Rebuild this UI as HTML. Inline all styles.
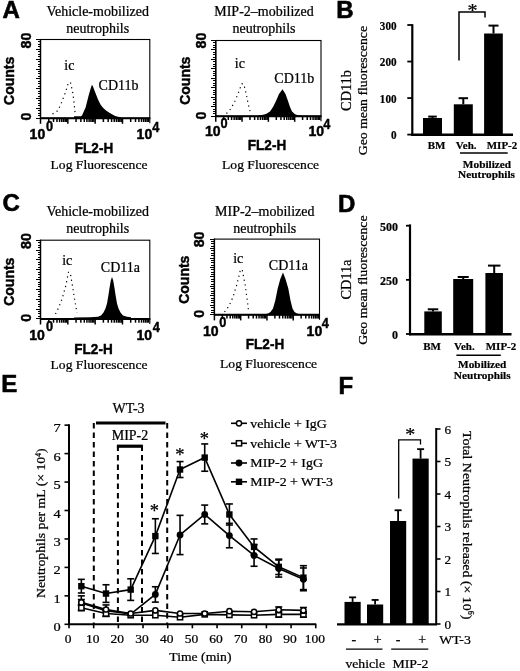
<!DOCTYPE html>
<html><head><meta charset="utf-8"><style>
html,body{margin:0;padding:0;background:#fff;}
svg{display:block;filter:grayscale(100%);}
</style></head><body>
<svg width="520" height="671" viewBox="0 0 520 671">
<rect width="520" height="671" fill="#fff"/>
<text x="2.5" y="18.3" font-family="Liberation Sans" font-size="24" font-weight="700" stroke="#000" stroke-width="0.6">A</text>
<text transform="translate(97.7,16.1) scale(1.0,0.97)" font-family="Liberation Serif" font-size="14" font-weight="400" text-anchor="middle" stroke="#000" stroke-width="0.25">Vehicle-mobilized</text>
<text transform="translate(97.7,32.9) scale(1.0,0.97)" font-family="Liberation Serif" font-size="14" font-weight="400" text-anchor="middle" stroke="#000" stroke-width="0.25">neutrophils</text>
<rect x="40.5" y="39.5" width="109.3" height="78.7" fill="none" stroke="#000" stroke-width="1.1"/>
<line x1="40.1" y1="118.2" x2="150.3" y2="118.2" stroke="#000" stroke-width="2" stroke-linecap="butt"/>
<line x1="40.5" y1="39" x2="40.5" y2="118.2" stroke="#000" stroke-width="1.4" stroke-linecap="butt"/>
<line x1="35.9" y1="118.2" x2="40.5" y2="118.2" stroke="#000" stroke-width="1" stroke-linecap="butt" shape-rendering="crispEdges"/>
<line x1="37.5" y1="115.74" x2="40.5" y2="115.74" stroke="#000" stroke-width="1" stroke-linecap="butt" shape-rendering="crispEdges"/>
<line x1="37.5" y1="113.28" x2="40.5" y2="113.28" stroke="#000" stroke-width="1" stroke-linecap="butt" shape-rendering="crispEdges"/>
<line x1="37.5" y1="110.82" x2="40.5" y2="110.82" stroke="#000" stroke-width="1" stroke-linecap="butt" shape-rendering="crispEdges"/>
<line x1="35.9" y1="108.36" x2="40.5" y2="108.36" stroke="#000" stroke-width="1" stroke-linecap="butt" shape-rendering="crispEdges"/>
<line x1="37.5" y1="105.9" x2="40.5" y2="105.9" stroke="#000" stroke-width="1" stroke-linecap="butt" shape-rendering="crispEdges"/>
<line x1="37.5" y1="103.44" x2="40.5" y2="103.44" stroke="#000" stroke-width="1" stroke-linecap="butt" shape-rendering="crispEdges"/>
<line x1="37.5" y1="100.98" x2="40.5" y2="100.98" stroke="#000" stroke-width="1" stroke-linecap="butt" shape-rendering="crispEdges"/>
<line x1="35.9" y1="98.53" x2="40.5" y2="98.53" stroke="#000" stroke-width="1" stroke-linecap="butt" shape-rendering="crispEdges"/>
<line x1="37.5" y1="96.07" x2="40.5" y2="96.07" stroke="#000" stroke-width="1" stroke-linecap="butt" shape-rendering="crispEdges"/>
<line x1="37.5" y1="93.61" x2="40.5" y2="93.61" stroke="#000" stroke-width="1" stroke-linecap="butt" shape-rendering="crispEdges"/>
<line x1="37.5" y1="91.15" x2="40.5" y2="91.15" stroke="#000" stroke-width="1" stroke-linecap="butt" shape-rendering="crispEdges"/>
<line x1="35.9" y1="88.69" x2="40.5" y2="88.69" stroke="#000" stroke-width="1" stroke-linecap="butt" shape-rendering="crispEdges"/>
<line x1="37.5" y1="86.23" x2="40.5" y2="86.23" stroke="#000" stroke-width="1" stroke-linecap="butt" shape-rendering="crispEdges"/>
<line x1="37.5" y1="83.77" x2="40.5" y2="83.77" stroke="#000" stroke-width="1" stroke-linecap="butt" shape-rendering="crispEdges"/>
<line x1="37.5" y1="81.31" x2="40.5" y2="81.31" stroke="#000" stroke-width="1" stroke-linecap="butt" shape-rendering="crispEdges"/>
<line x1="35.9" y1="78.85" x2="40.5" y2="78.85" stroke="#000" stroke-width="1" stroke-linecap="butt" shape-rendering="crispEdges"/>
<line x1="37.5" y1="76.39" x2="40.5" y2="76.39" stroke="#000" stroke-width="1" stroke-linecap="butt" shape-rendering="crispEdges"/>
<line x1="37.5" y1="73.93" x2="40.5" y2="73.93" stroke="#000" stroke-width="1" stroke-linecap="butt" shape-rendering="crispEdges"/>
<line x1="37.5" y1="71.47" x2="40.5" y2="71.47" stroke="#000" stroke-width="1" stroke-linecap="butt" shape-rendering="crispEdges"/>
<line x1="35.9" y1="69.01" x2="40.5" y2="69.01" stroke="#000" stroke-width="1" stroke-linecap="butt" shape-rendering="crispEdges"/>
<line x1="37.5" y1="66.55" x2="40.5" y2="66.55" stroke="#000" stroke-width="1" stroke-linecap="butt" shape-rendering="crispEdges"/>
<line x1="37.5" y1="64.09" x2="40.5" y2="64.09" stroke="#000" stroke-width="1" stroke-linecap="butt" shape-rendering="crispEdges"/>
<line x1="37.5" y1="61.63" x2="40.5" y2="61.63" stroke="#000" stroke-width="1" stroke-linecap="butt" shape-rendering="crispEdges"/>
<line x1="35.9" y1="59.17" x2="40.5" y2="59.17" stroke="#000" stroke-width="1" stroke-linecap="butt" shape-rendering="crispEdges"/>
<line x1="37.5" y1="56.72" x2="40.5" y2="56.72" stroke="#000" stroke-width="1" stroke-linecap="butt" shape-rendering="crispEdges"/>
<line x1="37.5" y1="54.26" x2="40.5" y2="54.26" stroke="#000" stroke-width="1" stroke-linecap="butt" shape-rendering="crispEdges"/>
<line x1="37.5" y1="51.8" x2="40.5" y2="51.8" stroke="#000" stroke-width="1" stroke-linecap="butt" shape-rendering="crispEdges"/>
<line x1="35.9" y1="49.34" x2="40.5" y2="49.34" stroke="#000" stroke-width="1" stroke-linecap="butt" shape-rendering="crispEdges"/>
<line x1="37.5" y1="46.88" x2="40.5" y2="46.88" stroke="#000" stroke-width="1" stroke-linecap="butt" shape-rendering="crispEdges"/>
<line x1="37.5" y1="44.42" x2="40.5" y2="44.42" stroke="#000" stroke-width="1" stroke-linecap="butt" shape-rendering="crispEdges"/>
<line x1="37.5" y1="41.96" x2="40.5" y2="41.96" stroke="#000" stroke-width="1" stroke-linecap="butt" shape-rendering="crispEdges"/>
<line x1="35.9" y1="39.5" x2="40.5" y2="39.5" stroke="#000" stroke-width="1" stroke-linecap="butt" shape-rendering="crispEdges"/>
<line x1="40.5" y1="118.2" x2="40.5" y2="123.8" stroke="#000" stroke-width="1.5" stroke-linecap="butt"/>
<line x1="48.73" y1="118.2" x2="48.73" y2="122" stroke="#000" stroke-width="1.5" stroke-linecap="butt"/>
<line x1="53.54" y1="118.2" x2="53.54" y2="122" stroke="#000" stroke-width="1.5" stroke-linecap="butt"/>
<line x1="56.95" y1="118.2" x2="56.95" y2="122" stroke="#000" stroke-width="1.5" stroke-linecap="butt"/>
<line x1="59.6" y1="118.2" x2="59.6" y2="122" stroke="#000" stroke-width="1.5" stroke-linecap="butt"/>
<line x1="61.76" y1="118.2" x2="61.76" y2="122" stroke="#000" stroke-width="1.5" stroke-linecap="butt"/>
<line x1="63.59" y1="118.2" x2="63.59" y2="122" stroke="#000" stroke-width="1.5" stroke-linecap="butt"/>
<line x1="65.18" y1="118.2" x2="65.18" y2="122" stroke="#000" stroke-width="1.5" stroke-linecap="butt"/>
<line x1="66.57" y1="118.2" x2="66.57" y2="122" stroke="#000" stroke-width="1.5" stroke-linecap="butt"/>
<line x1="67.83" y1="118.2" x2="67.83" y2="123.8" stroke="#000" stroke-width="1.5" stroke-linecap="butt"/>
<line x1="76.05" y1="118.2" x2="76.05" y2="122" stroke="#000" stroke-width="1.5" stroke-linecap="butt"/>
<line x1="80.86" y1="118.2" x2="80.86" y2="122" stroke="#000" stroke-width="1.5" stroke-linecap="butt"/>
<line x1="84.28" y1="118.2" x2="84.28" y2="122" stroke="#000" stroke-width="1.5" stroke-linecap="butt"/>
<line x1="86.92" y1="118.2" x2="86.92" y2="122" stroke="#000" stroke-width="1.5" stroke-linecap="butt"/>
<line x1="89.09" y1="118.2" x2="89.09" y2="122" stroke="#000" stroke-width="1.5" stroke-linecap="butt"/>
<line x1="90.92" y1="118.2" x2="90.92" y2="122" stroke="#000" stroke-width="1.5" stroke-linecap="butt"/>
<line x1="92.5" y1="118.2" x2="92.5" y2="122" stroke="#000" stroke-width="1.5" stroke-linecap="butt"/>
<line x1="93.9" y1="118.2" x2="93.9" y2="122" stroke="#000" stroke-width="1.5" stroke-linecap="butt"/>
<line x1="95.15" y1="118.2" x2="95.15" y2="123.8" stroke="#000" stroke-width="1.5" stroke-linecap="butt"/>
<line x1="103.38" y1="118.2" x2="103.38" y2="122" stroke="#000" stroke-width="1.5" stroke-linecap="butt"/>
<line x1="108.19" y1="118.2" x2="108.19" y2="122" stroke="#000" stroke-width="1.5" stroke-linecap="butt"/>
<line x1="111.6" y1="118.2" x2="111.6" y2="122" stroke="#000" stroke-width="1.5" stroke-linecap="butt"/>
<line x1="114.25" y1="118.2" x2="114.25" y2="122" stroke="#000" stroke-width="1.5" stroke-linecap="butt"/>
<line x1="116.41" y1="118.2" x2="116.41" y2="122" stroke="#000" stroke-width="1.5" stroke-linecap="butt"/>
<line x1="118.24" y1="118.2" x2="118.24" y2="122" stroke="#000" stroke-width="1.5" stroke-linecap="butt"/>
<line x1="119.83" y1="118.2" x2="119.83" y2="122" stroke="#000" stroke-width="1.5" stroke-linecap="butt"/>
<line x1="121.22" y1="118.2" x2="121.22" y2="122" stroke="#000" stroke-width="1.5" stroke-linecap="butt"/>
<line x1="122.48" y1="118.2" x2="122.48" y2="123.8" stroke="#000" stroke-width="1.5" stroke-linecap="butt"/>
<line x1="130.7" y1="118.2" x2="130.7" y2="122" stroke="#000" stroke-width="1.5" stroke-linecap="butt"/>
<line x1="135.51" y1="118.2" x2="135.51" y2="122" stroke="#000" stroke-width="1.5" stroke-linecap="butt"/>
<line x1="138.93" y1="118.2" x2="138.93" y2="122" stroke="#000" stroke-width="1.5" stroke-linecap="butt"/>
<line x1="141.57" y1="118.2" x2="141.57" y2="122" stroke="#000" stroke-width="1.5" stroke-linecap="butt"/>
<line x1="143.74" y1="118.2" x2="143.74" y2="122" stroke="#000" stroke-width="1.5" stroke-linecap="butt"/>
<line x1="145.57" y1="118.2" x2="145.57" y2="122" stroke="#000" stroke-width="1.5" stroke-linecap="butt"/>
<line x1="147.15" y1="118.2" x2="147.15" y2="122" stroke="#000" stroke-width="1.5" stroke-linecap="butt"/>
<line x1="148.55" y1="118.2" x2="148.55" y2="122" stroke="#000" stroke-width="1.5" stroke-linecap="butt"/>
<line x1="149.8" y1="118.2" x2="149.8" y2="123.2" stroke="#000" stroke-width="1.1" stroke-linecap="butt"/>
<polygon points="74,118 74,116.3 81,116.3 82,115.5 84,111 85.6,107.5 87.5,100 88.75,95 90.5,89 91.9,84.8 93,86.5 94.5,90.5 96.25,95 98,99.5 100.5,104.5 103,107.8 106,110.5 109,112.6 112,114.3 115.2,116 118,116.8 121,117.3 121,118" fill="#000"/>
<polyline points="52.5,114 58,110.6 62,101.5 65.6,92 68.5,82.3 70.6,83 72.8,92.8 74,102.3 75,112 75.5,115" fill="none" stroke="#000" stroke-width="1.2" stroke-linecap="butt" stroke-linejoin="miter" stroke-dasharray="1.2 3.6"/>
<text transform="translate(64.3,70) scale(1.0,0.97)" font-family="Liberation Serif" font-size="14" font-weight="400" text-anchor="start" stroke="#000" stroke-width="0.25">ic</text>
<text transform="translate(98.6,89.5) scale(1.0,0.97)" font-family="Liberation Serif" font-size="14" font-weight="400" text-anchor="start" stroke="#000" stroke-width="0.25">CD11b</text>
<text transform="translate(14.2,80.8) rotate(-90) scale(0.915,1.0)" font-family="Liberation Sans" font-size="15.3" font-weight="700" text-anchor="middle" stroke="#000" stroke-width="0.45">Counts</text>
<text transform="translate(30.7,40.6) rotate(-90) scale(0.94,1.0)" font-family="Liberation Sans" font-size="15.2" font-weight="700" text-anchor="middle" stroke="#000" stroke-width="0.45">80</text>
<text transform="translate(30.7,116.6) rotate(-90) scale(0.94,1.0)" font-family="Liberation Sans" font-size="15.2" font-weight="700" text-anchor="middle" stroke="#000" stroke-width="0.45">0</text>
<text transform="translate(29.6,139.3) scale(0.97,1.0)" font-family="Liberation Sans" font-size="14.5" font-weight="700" text-anchor="start" stroke="#000" stroke-width="0.45">10</text>
<text transform="translate(45.9,131.3) scale(0.88,1.0)" font-family="Liberation Sans" font-size="14.5" font-weight="700" text-anchor="start" stroke="#000" stroke-width="0.45">0</text>
<text transform="translate(136.6,139.2) scale(0.97,1.0)" font-family="Liberation Sans" font-size="14.5" font-weight="700" text-anchor="start" stroke="#000" stroke-width="0.45">10</text>
<text transform="translate(152.2,131.7) scale(0.88,1.0)" font-family="Liberation Sans" font-size="14.5" font-weight="700" text-anchor="start" stroke="#000" stroke-width="0.45">4</text>
<text transform="translate(94,153.3) scale(0.885,1.0)" font-family="Liberation Sans" font-size="15.3" font-weight="700" text-anchor="middle" stroke="#000" stroke-width="0.45">FL2-H</text>
<text transform="translate(99,168.5) scale(1.0,0.97)" font-family="Liberation Serif" font-size="13.6" font-weight="400" text-anchor="middle" stroke="#000" stroke-width="0.25">Log Fluorescence</text>
<text transform="translate(264,16.1) scale(1.0,0.97)" font-family="Liberation Serif" font-size="14" font-weight="400" text-anchor="middle" stroke="#000" stroke-width="0.25">MIP-2–mobilized</text>
<text transform="translate(264,32.9) scale(1.0,0.97)" font-family="Liberation Serif" font-size="14" font-weight="400" text-anchor="middle" stroke="#000" stroke-width="0.25">neutrophils</text>
<rect x="215.75" y="40.5" width="105.25" height="75.7" fill="none" stroke="#000" stroke-width="1.1"/>
<line x1="215.35" y1="116.2" x2="321.5" y2="116.2" stroke="#000" stroke-width="2" stroke-linecap="butt"/>
<line x1="215.75" y1="40" x2="215.75" y2="116.2" stroke="#000" stroke-width="1.4" stroke-linecap="butt"/>
<line x1="211.15" y1="116.2" x2="215.75" y2="116.2" stroke="#000" stroke-width="1" stroke-linecap="butt" shape-rendering="crispEdges"/>
<line x1="212.75" y1="113.83" x2="215.75" y2="113.83" stroke="#000" stroke-width="1" stroke-linecap="butt" shape-rendering="crispEdges"/>
<line x1="212.75" y1="111.47" x2="215.75" y2="111.47" stroke="#000" stroke-width="1" stroke-linecap="butt" shape-rendering="crispEdges"/>
<line x1="212.75" y1="109.1" x2="215.75" y2="109.1" stroke="#000" stroke-width="1" stroke-linecap="butt" shape-rendering="crispEdges"/>
<line x1="211.15" y1="106.74" x2="215.75" y2="106.74" stroke="#000" stroke-width="1" stroke-linecap="butt" shape-rendering="crispEdges"/>
<line x1="212.75" y1="104.37" x2="215.75" y2="104.37" stroke="#000" stroke-width="1" stroke-linecap="butt" shape-rendering="crispEdges"/>
<line x1="212.75" y1="102.01" x2="215.75" y2="102.01" stroke="#000" stroke-width="1" stroke-linecap="butt" shape-rendering="crispEdges"/>
<line x1="212.75" y1="99.64" x2="215.75" y2="99.64" stroke="#000" stroke-width="1" stroke-linecap="butt" shape-rendering="crispEdges"/>
<line x1="211.15" y1="97.28" x2="215.75" y2="97.28" stroke="#000" stroke-width="1" stroke-linecap="butt" shape-rendering="crispEdges"/>
<line x1="212.75" y1="94.91" x2="215.75" y2="94.91" stroke="#000" stroke-width="1" stroke-linecap="butt" shape-rendering="crispEdges"/>
<line x1="212.75" y1="92.54" x2="215.75" y2="92.54" stroke="#000" stroke-width="1" stroke-linecap="butt" shape-rendering="crispEdges"/>
<line x1="212.75" y1="90.18" x2="215.75" y2="90.18" stroke="#000" stroke-width="1" stroke-linecap="butt" shape-rendering="crispEdges"/>
<line x1="211.15" y1="87.81" x2="215.75" y2="87.81" stroke="#000" stroke-width="1" stroke-linecap="butt" shape-rendering="crispEdges"/>
<line x1="212.75" y1="85.45" x2="215.75" y2="85.45" stroke="#000" stroke-width="1" stroke-linecap="butt" shape-rendering="crispEdges"/>
<line x1="212.75" y1="83.08" x2="215.75" y2="83.08" stroke="#000" stroke-width="1" stroke-linecap="butt" shape-rendering="crispEdges"/>
<line x1="212.75" y1="80.72" x2="215.75" y2="80.72" stroke="#000" stroke-width="1" stroke-linecap="butt" shape-rendering="crispEdges"/>
<line x1="211.15" y1="78.35" x2="215.75" y2="78.35" stroke="#000" stroke-width="1" stroke-linecap="butt" shape-rendering="crispEdges"/>
<line x1="212.75" y1="75.98" x2="215.75" y2="75.98" stroke="#000" stroke-width="1" stroke-linecap="butt" shape-rendering="crispEdges"/>
<line x1="212.75" y1="73.62" x2="215.75" y2="73.62" stroke="#000" stroke-width="1" stroke-linecap="butt" shape-rendering="crispEdges"/>
<line x1="212.75" y1="71.25" x2="215.75" y2="71.25" stroke="#000" stroke-width="1" stroke-linecap="butt" shape-rendering="crispEdges"/>
<line x1="211.15" y1="68.89" x2="215.75" y2="68.89" stroke="#000" stroke-width="1" stroke-linecap="butt" shape-rendering="crispEdges"/>
<line x1="212.75" y1="66.52" x2="215.75" y2="66.52" stroke="#000" stroke-width="1" stroke-linecap="butt" shape-rendering="crispEdges"/>
<line x1="212.75" y1="64.16" x2="215.75" y2="64.16" stroke="#000" stroke-width="1" stroke-linecap="butt" shape-rendering="crispEdges"/>
<line x1="212.75" y1="61.79" x2="215.75" y2="61.79" stroke="#000" stroke-width="1" stroke-linecap="butt" shape-rendering="crispEdges"/>
<line x1="211.15" y1="59.42" x2="215.75" y2="59.42" stroke="#000" stroke-width="1" stroke-linecap="butt" shape-rendering="crispEdges"/>
<line x1="212.75" y1="57.06" x2="215.75" y2="57.06" stroke="#000" stroke-width="1" stroke-linecap="butt" shape-rendering="crispEdges"/>
<line x1="212.75" y1="54.69" x2="215.75" y2="54.69" stroke="#000" stroke-width="1" stroke-linecap="butt" shape-rendering="crispEdges"/>
<line x1="212.75" y1="52.33" x2="215.75" y2="52.33" stroke="#000" stroke-width="1" stroke-linecap="butt" shape-rendering="crispEdges"/>
<line x1="211.15" y1="49.96" x2="215.75" y2="49.96" stroke="#000" stroke-width="1" stroke-linecap="butt" shape-rendering="crispEdges"/>
<line x1="212.75" y1="47.6" x2="215.75" y2="47.6" stroke="#000" stroke-width="1" stroke-linecap="butt" shape-rendering="crispEdges"/>
<line x1="212.75" y1="45.23" x2="215.75" y2="45.23" stroke="#000" stroke-width="1" stroke-linecap="butt" shape-rendering="crispEdges"/>
<line x1="212.75" y1="42.87" x2="215.75" y2="42.87" stroke="#000" stroke-width="1" stroke-linecap="butt" shape-rendering="crispEdges"/>
<line x1="211.15" y1="40.5" x2="215.75" y2="40.5" stroke="#000" stroke-width="1" stroke-linecap="butt" shape-rendering="crispEdges"/>
<line x1="215.75" y1="116.2" x2="215.75" y2="121.8" stroke="#000" stroke-width="1.5" stroke-linecap="butt"/>
<line x1="223.67" y1="116.2" x2="223.67" y2="120" stroke="#000" stroke-width="1.5" stroke-linecap="butt"/>
<line x1="228.3" y1="116.2" x2="228.3" y2="120" stroke="#000" stroke-width="1.5" stroke-linecap="butt"/>
<line x1="231.59" y1="116.2" x2="231.59" y2="120" stroke="#000" stroke-width="1.5" stroke-linecap="butt"/>
<line x1="234.14" y1="116.2" x2="234.14" y2="120" stroke="#000" stroke-width="1.5" stroke-linecap="butt"/>
<line x1="236.23" y1="116.2" x2="236.23" y2="120" stroke="#000" stroke-width="1.5" stroke-linecap="butt"/>
<line x1="237.99" y1="116.2" x2="237.99" y2="120" stroke="#000" stroke-width="1.5" stroke-linecap="butt"/>
<line x1="239.51" y1="116.2" x2="239.51" y2="120" stroke="#000" stroke-width="1.5" stroke-linecap="butt"/>
<line x1="240.86" y1="116.2" x2="240.86" y2="120" stroke="#000" stroke-width="1.5" stroke-linecap="butt"/>
<line x1="242.06" y1="116.2" x2="242.06" y2="121.8" stroke="#000" stroke-width="1.5" stroke-linecap="butt"/>
<line x1="249.98" y1="116.2" x2="249.98" y2="120" stroke="#000" stroke-width="1.5" stroke-linecap="butt"/>
<line x1="254.62" y1="116.2" x2="254.62" y2="120" stroke="#000" stroke-width="1.5" stroke-linecap="butt"/>
<line x1="257.9" y1="116.2" x2="257.9" y2="120" stroke="#000" stroke-width="1.5" stroke-linecap="butt"/>
<line x1="260.45" y1="116.2" x2="260.45" y2="120" stroke="#000" stroke-width="1.5" stroke-linecap="butt"/>
<line x1="262.54" y1="116.2" x2="262.54" y2="120" stroke="#000" stroke-width="1.5" stroke-linecap="butt"/>
<line x1="264.3" y1="116.2" x2="264.3" y2="120" stroke="#000" stroke-width="1.5" stroke-linecap="butt"/>
<line x1="265.83" y1="116.2" x2="265.83" y2="120" stroke="#000" stroke-width="1.5" stroke-linecap="butt"/>
<line x1="267.17" y1="116.2" x2="267.17" y2="120" stroke="#000" stroke-width="1.5" stroke-linecap="butt"/>
<line x1="268.38" y1="116.2" x2="268.38" y2="121.8" stroke="#000" stroke-width="1.5" stroke-linecap="butt"/>
<line x1="276.3" y1="116.2" x2="276.3" y2="120" stroke="#000" stroke-width="1.5" stroke-linecap="butt"/>
<line x1="280.93" y1="116.2" x2="280.93" y2="120" stroke="#000" stroke-width="1.5" stroke-linecap="butt"/>
<line x1="284.22" y1="116.2" x2="284.22" y2="120" stroke="#000" stroke-width="1.5" stroke-linecap="butt"/>
<line x1="286.77" y1="116.2" x2="286.77" y2="120" stroke="#000" stroke-width="1.5" stroke-linecap="butt"/>
<line x1="288.85" y1="116.2" x2="288.85" y2="120" stroke="#000" stroke-width="1.5" stroke-linecap="butt"/>
<line x1="290.61" y1="116.2" x2="290.61" y2="120" stroke="#000" stroke-width="1.5" stroke-linecap="butt"/>
<line x1="292.14" y1="116.2" x2="292.14" y2="120" stroke="#000" stroke-width="1.5" stroke-linecap="butt"/>
<line x1="293.48" y1="116.2" x2="293.48" y2="120" stroke="#000" stroke-width="1.5" stroke-linecap="butt"/>
<line x1="294.69" y1="116.2" x2="294.69" y2="121.8" stroke="#000" stroke-width="1.5" stroke-linecap="butt"/>
<line x1="302.61" y1="116.2" x2="302.61" y2="120" stroke="#000" stroke-width="1.5" stroke-linecap="butt"/>
<line x1="307.24" y1="116.2" x2="307.24" y2="120" stroke="#000" stroke-width="1.5" stroke-linecap="butt"/>
<line x1="310.53" y1="116.2" x2="310.53" y2="120" stroke="#000" stroke-width="1.5" stroke-linecap="butt"/>
<line x1="313.08" y1="116.2" x2="313.08" y2="120" stroke="#000" stroke-width="1.5" stroke-linecap="butt"/>
<line x1="315.16" y1="116.2" x2="315.16" y2="120" stroke="#000" stroke-width="1.5" stroke-linecap="butt"/>
<line x1="316.92" y1="116.2" x2="316.92" y2="120" stroke="#000" stroke-width="1.5" stroke-linecap="butt"/>
<line x1="318.45" y1="116.2" x2="318.45" y2="120" stroke="#000" stroke-width="1.5" stroke-linecap="butt"/>
<line x1="319.8" y1="116.2" x2="319.8" y2="120" stroke="#000" stroke-width="1.5" stroke-linecap="butt"/>
<line x1="321" y1="116.2" x2="321" y2="121.2" stroke="#000" stroke-width="1.1" stroke-linecap="butt"/>
<polygon points="258,116.2 258,115.5 262,115 266,114 270,111.5 273,107 276,101 279,94 282.5,89.2 285.5,94 288,101 290,107 292,111.5 295,114.3 298,115.3 302,115.8 302,116.2" fill="#000"/>
<polyline points="226.5,113.5 231,108.5 235,101 238.5,92.5 241.8,83.8 243.7,84 246,93 248,103 249.5,109 250.5,113" fill="none" stroke="#000" stroke-width="1.2" stroke-linecap="butt" stroke-linejoin="miter" stroke-dasharray="1.2 3.6"/>
<text transform="translate(234.8,67.5) scale(1.0,0.97)" font-family="Liberation Serif" font-size="14" font-weight="400" text-anchor="start" stroke="#000" stroke-width="0.25">ic</text>
<text transform="translate(274.3,83) scale(1.0,0.97)" font-family="Liberation Serif" font-size="14" font-weight="400" text-anchor="start" stroke="#000" stroke-width="0.25">CD11b</text>
<text transform="translate(190.2,80.7) rotate(-90) scale(0.915,1.0)" font-family="Liberation Sans" font-size="15.3" font-weight="700" text-anchor="middle" stroke="#000" stroke-width="0.45">Counts</text>
<text transform="translate(205.5,40.6) rotate(-90) scale(0.94,1.0)" font-family="Liberation Sans" font-size="15.2" font-weight="700" text-anchor="middle" stroke="#000" stroke-width="0.45">80</text>
<text transform="translate(205.5,115.4) rotate(-90) scale(0.94,1.0)" font-family="Liberation Sans" font-size="15.2" font-weight="700" text-anchor="middle" stroke="#000" stroke-width="0.45">0</text>
<text transform="translate(205,136.4) scale(0.97,1.0)" font-family="Liberation Sans" font-size="14.5" font-weight="700" text-anchor="start" stroke="#000" stroke-width="0.45">10</text>
<text transform="translate(220.6,128.3) scale(0.88,1.0)" font-family="Liberation Sans" font-size="14.5" font-weight="700" text-anchor="start" stroke="#000" stroke-width="0.45">0</text>
<text transform="translate(308.55,136.2) scale(0.97,1.0)" font-family="Liberation Sans" font-size="14.5" font-weight="700" text-anchor="start" stroke="#000" stroke-width="0.45">10</text>
<text transform="translate(323.35,128.6) scale(0.88,1.0)" font-family="Liberation Sans" font-size="14.5" font-weight="700" text-anchor="start" stroke="#000" stroke-width="0.45">4</text>
<text transform="translate(267,149.8) scale(0.885,1.0)" font-family="Liberation Sans" font-size="15.3" font-weight="700" text-anchor="middle" stroke="#000" stroke-width="0.45">FL2-H</text>
<text transform="translate(270.5,168.5) scale(1.0,0.97)" font-family="Liberation Serif" font-size="13.6" font-weight="400" text-anchor="middle" stroke="#000" stroke-width="0.25">Log Fluorescence</text>
<text x="2.5" y="210.6" font-family="Liberation Sans" font-size="24" font-weight="700" stroke="#000" stroke-width="0.6">C</text>
<text transform="translate(97.7,215.8) scale(1.0,0.97)" font-family="Liberation Serif" font-size="14" font-weight="400" text-anchor="middle" stroke="#000" stroke-width="0.25">Vehicle-mobilized</text>
<text transform="translate(97.7,232.6) scale(1.0,0.97)" font-family="Liberation Serif" font-size="14" font-weight="400" text-anchor="middle" stroke="#000" stroke-width="0.25">neutrophils</text>
<rect x="40.5" y="240.2" width="109.3" height="78.7" fill="none" stroke="#000" stroke-width="1.1"/>
<line x1="40.1" y1="318.9" x2="150.3" y2="318.9" stroke="#000" stroke-width="2" stroke-linecap="butt"/>
<line x1="40.5" y1="239.7" x2="40.5" y2="318.9" stroke="#000" stroke-width="1.4" stroke-linecap="butt"/>
<line x1="35.9" y1="318.9" x2="40.5" y2="318.9" stroke="#000" stroke-width="1" stroke-linecap="butt" shape-rendering="crispEdges"/>
<line x1="37.5" y1="316.44" x2="40.5" y2="316.44" stroke="#000" stroke-width="1" stroke-linecap="butt" shape-rendering="crispEdges"/>
<line x1="37.5" y1="313.98" x2="40.5" y2="313.98" stroke="#000" stroke-width="1" stroke-linecap="butt" shape-rendering="crispEdges"/>
<line x1="37.5" y1="311.52" x2="40.5" y2="311.52" stroke="#000" stroke-width="1" stroke-linecap="butt" shape-rendering="crispEdges"/>
<line x1="35.9" y1="309.06" x2="40.5" y2="309.06" stroke="#000" stroke-width="1" stroke-linecap="butt" shape-rendering="crispEdges"/>
<line x1="37.5" y1="306.6" x2="40.5" y2="306.6" stroke="#000" stroke-width="1" stroke-linecap="butt" shape-rendering="crispEdges"/>
<line x1="37.5" y1="304.14" x2="40.5" y2="304.14" stroke="#000" stroke-width="1" stroke-linecap="butt" shape-rendering="crispEdges"/>
<line x1="37.5" y1="301.68" x2="40.5" y2="301.68" stroke="#000" stroke-width="1" stroke-linecap="butt" shape-rendering="crispEdges"/>
<line x1="35.9" y1="299.22" x2="40.5" y2="299.22" stroke="#000" stroke-width="1" stroke-linecap="butt" shape-rendering="crispEdges"/>
<line x1="37.5" y1="296.77" x2="40.5" y2="296.77" stroke="#000" stroke-width="1" stroke-linecap="butt" shape-rendering="crispEdges"/>
<line x1="37.5" y1="294.31" x2="40.5" y2="294.31" stroke="#000" stroke-width="1" stroke-linecap="butt" shape-rendering="crispEdges"/>
<line x1="37.5" y1="291.85" x2="40.5" y2="291.85" stroke="#000" stroke-width="1" stroke-linecap="butt" shape-rendering="crispEdges"/>
<line x1="35.9" y1="289.39" x2="40.5" y2="289.39" stroke="#000" stroke-width="1" stroke-linecap="butt" shape-rendering="crispEdges"/>
<line x1="37.5" y1="286.93" x2="40.5" y2="286.93" stroke="#000" stroke-width="1" stroke-linecap="butt" shape-rendering="crispEdges"/>
<line x1="37.5" y1="284.47" x2="40.5" y2="284.47" stroke="#000" stroke-width="1" stroke-linecap="butt" shape-rendering="crispEdges"/>
<line x1="37.5" y1="282.01" x2="40.5" y2="282.01" stroke="#000" stroke-width="1" stroke-linecap="butt" shape-rendering="crispEdges"/>
<line x1="35.9" y1="279.55" x2="40.5" y2="279.55" stroke="#000" stroke-width="1" stroke-linecap="butt" shape-rendering="crispEdges"/>
<line x1="37.5" y1="277.09" x2="40.5" y2="277.09" stroke="#000" stroke-width="1" stroke-linecap="butt" shape-rendering="crispEdges"/>
<line x1="37.5" y1="274.63" x2="40.5" y2="274.63" stroke="#000" stroke-width="1" stroke-linecap="butt" shape-rendering="crispEdges"/>
<line x1="37.5" y1="272.17" x2="40.5" y2="272.17" stroke="#000" stroke-width="1" stroke-linecap="butt" shape-rendering="crispEdges"/>
<line x1="35.9" y1="269.71" x2="40.5" y2="269.71" stroke="#000" stroke-width="1" stroke-linecap="butt" shape-rendering="crispEdges"/>
<line x1="37.5" y1="267.25" x2="40.5" y2="267.25" stroke="#000" stroke-width="1" stroke-linecap="butt" shape-rendering="crispEdges"/>
<line x1="37.5" y1="264.79" x2="40.5" y2="264.79" stroke="#000" stroke-width="1" stroke-linecap="butt" shape-rendering="crispEdges"/>
<line x1="37.5" y1="262.33" x2="40.5" y2="262.33" stroke="#000" stroke-width="1" stroke-linecap="butt" shape-rendering="crispEdges"/>
<line x1="35.9" y1="259.88" x2="40.5" y2="259.88" stroke="#000" stroke-width="1" stroke-linecap="butt" shape-rendering="crispEdges"/>
<line x1="37.5" y1="257.42" x2="40.5" y2="257.42" stroke="#000" stroke-width="1" stroke-linecap="butt" shape-rendering="crispEdges"/>
<line x1="37.5" y1="254.96" x2="40.5" y2="254.96" stroke="#000" stroke-width="1" stroke-linecap="butt" shape-rendering="crispEdges"/>
<line x1="37.5" y1="252.5" x2="40.5" y2="252.5" stroke="#000" stroke-width="1" stroke-linecap="butt" shape-rendering="crispEdges"/>
<line x1="35.9" y1="250.04" x2="40.5" y2="250.04" stroke="#000" stroke-width="1" stroke-linecap="butt" shape-rendering="crispEdges"/>
<line x1="37.5" y1="247.58" x2="40.5" y2="247.58" stroke="#000" stroke-width="1" stroke-linecap="butt" shape-rendering="crispEdges"/>
<line x1="37.5" y1="245.12" x2="40.5" y2="245.12" stroke="#000" stroke-width="1" stroke-linecap="butt" shape-rendering="crispEdges"/>
<line x1="37.5" y1="242.66" x2="40.5" y2="242.66" stroke="#000" stroke-width="1" stroke-linecap="butt" shape-rendering="crispEdges"/>
<line x1="35.9" y1="240.2" x2="40.5" y2="240.2" stroke="#000" stroke-width="1" stroke-linecap="butt" shape-rendering="crispEdges"/>
<line x1="40.5" y1="318.9" x2="40.5" y2="324.5" stroke="#000" stroke-width="1.5" stroke-linecap="butt"/>
<line x1="48.73" y1="318.9" x2="48.73" y2="322.7" stroke="#000" stroke-width="1.5" stroke-linecap="butt"/>
<line x1="53.54" y1="318.9" x2="53.54" y2="322.7" stroke="#000" stroke-width="1.5" stroke-linecap="butt"/>
<line x1="56.95" y1="318.9" x2="56.95" y2="322.7" stroke="#000" stroke-width="1.5" stroke-linecap="butt"/>
<line x1="59.6" y1="318.9" x2="59.6" y2="322.7" stroke="#000" stroke-width="1.5" stroke-linecap="butt"/>
<line x1="61.76" y1="318.9" x2="61.76" y2="322.7" stroke="#000" stroke-width="1.5" stroke-linecap="butt"/>
<line x1="63.59" y1="318.9" x2="63.59" y2="322.7" stroke="#000" stroke-width="1.5" stroke-linecap="butt"/>
<line x1="65.18" y1="318.9" x2="65.18" y2="322.7" stroke="#000" stroke-width="1.5" stroke-linecap="butt"/>
<line x1="66.57" y1="318.9" x2="66.57" y2="322.7" stroke="#000" stroke-width="1.5" stroke-linecap="butt"/>
<line x1="67.83" y1="318.9" x2="67.83" y2="324.5" stroke="#000" stroke-width="1.5" stroke-linecap="butt"/>
<line x1="76.05" y1="318.9" x2="76.05" y2="322.7" stroke="#000" stroke-width="1.5" stroke-linecap="butt"/>
<line x1="80.86" y1="318.9" x2="80.86" y2="322.7" stroke="#000" stroke-width="1.5" stroke-linecap="butt"/>
<line x1="84.28" y1="318.9" x2="84.28" y2="322.7" stroke="#000" stroke-width="1.5" stroke-linecap="butt"/>
<line x1="86.92" y1="318.9" x2="86.92" y2="322.7" stroke="#000" stroke-width="1.5" stroke-linecap="butt"/>
<line x1="89.09" y1="318.9" x2="89.09" y2="322.7" stroke="#000" stroke-width="1.5" stroke-linecap="butt"/>
<line x1="90.92" y1="318.9" x2="90.92" y2="322.7" stroke="#000" stroke-width="1.5" stroke-linecap="butt"/>
<line x1="92.5" y1="318.9" x2="92.5" y2="322.7" stroke="#000" stroke-width="1.5" stroke-linecap="butt"/>
<line x1="93.9" y1="318.9" x2="93.9" y2="322.7" stroke="#000" stroke-width="1.5" stroke-linecap="butt"/>
<line x1="95.15" y1="318.9" x2="95.15" y2="324.5" stroke="#000" stroke-width="1.5" stroke-linecap="butt"/>
<line x1="103.38" y1="318.9" x2="103.38" y2="322.7" stroke="#000" stroke-width="1.5" stroke-linecap="butt"/>
<line x1="108.19" y1="318.9" x2="108.19" y2="322.7" stroke="#000" stroke-width="1.5" stroke-linecap="butt"/>
<line x1="111.6" y1="318.9" x2="111.6" y2="322.7" stroke="#000" stroke-width="1.5" stroke-linecap="butt"/>
<line x1="114.25" y1="318.9" x2="114.25" y2="322.7" stroke="#000" stroke-width="1.5" stroke-linecap="butt"/>
<line x1="116.41" y1="318.9" x2="116.41" y2="322.7" stroke="#000" stroke-width="1.5" stroke-linecap="butt"/>
<line x1="118.24" y1="318.9" x2="118.24" y2="322.7" stroke="#000" stroke-width="1.5" stroke-linecap="butt"/>
<line x1="119.83" y1="318.9" x2="119.83" y2="322.7" stroke="#000" stroke-width="1.5" stroke-linecap="butt"/>
<line x1="121.22" y1="318.9" x2="121.22" y2="322.7" stroke="#000" stroke-width="1.5" stroke-linecap="butt"/>
<line x1="122.48" y1="318.9" x2="122.48" y2="324.5" stroke="#000" stroke-width="1.5" stroke-linecap="butt"/>
<line x1="130.7" y1="318.9" x2="130.7" y2="322.7" stroke="#000" stroke-width="1.5" stroke-linecap="butt"/>
<line x1="135.51" y1="318.9" x2="135.51" y2="322.7" stroke="#000" stroke-width="1.5" stroke-linecap="butt"/>
<line x1="138.93" y1="318.9" x2="138.93" y2="322.7" stroke="#000" stroke-width="1.5" stroke-linecap="butt"/>
<line x1="141.57" y1="318.9" x2="141.57" y2="322.7" stroke="#000" stroke-width="1.5" stroke-linecap="butt"/>
<line x1="143.74" y1="318.9" x2="143.74" y2="322.7" stroke="#000" stroke-width="1.5" stroke-linecap="butt"/>
<line x1="145.57" y1="318.9" x2="145.57" y2="322.7" stroke="#000" stroke-width="1.5" stroke-linecap="butt"/>
<line x1="147.15" y1="318.9" x2="147.15" y2="322.7" stroke="#000" stroke-width="1.5" stroke-linecap="butt"/>
<line x1="148.55" y1="318.9" x2="148.55" y2="322.7" stroke="#000" stroke-width="1.5" stroke-linecap="butt"/>
<line x1="149.8" y1="318.9" x2="149.8" y2="323.9" stroke="#000" stroke-width="1.1" stroke-linecap="butt"/>
<polygon points="74,318.9 74,317.4 90,317.2 98,316.7 101,315.5 103.5,312.5 105.5,308.5 107,303.5 108.3,296 109.5,288 110.8,280.5 112,277 113.2,280.5 114.5,288 115.7,296 117,303.5 118.5,308.5 120.5,312.5 123,315.5 127,316.8 131,317.3 131,318.9" fill="#000"/>
<polyline points="55.5,314 58.5,308 62,299 65.5,287 68.5,272.3 70.2,272.5 72.5,286 74.5,299 76,307 77,313" fill="none" stroke="#000" stroke-width="1.2" stroke-linecap="butt" stroke-linejoin="miter" stroke-dasharray="1.2 3.6"/>
<text transform="translate(62.2,265.4) scale(1.0,0.97)" font-family="Liberation Serif" font-size="14" font-weight="400" text-anchor="start" stroke="#000" stroke-width="0.25">ic</text>
<text transform="translate(100.8,272.4) scale(1.0,0.97)" font-family="Liberation Serif" font-size="14" font-weight="400" text-anchor="start" stroke="#000" stroke-width="0.25">CD11a</text>
<text transform="translate(14.2,281.7) rotate(-90) scale(0.915,1.0)" font-family="Liberation Sans" font-size="15.3" font-weight="700" text-anchor="middle" stroke="#000" stroke-width="0.45">Counts</text>
<text transform="translate(30.9,241) rotate(-90) scale(0.94,1.0)" font-family="Liberation Sans" font-size="15.2" font-weight="700" text-anchor="middle" stroke="#000" stroke-width="0.45">80</text>
<text transform="translate(30.9,317.7) rotate(-90) scale(0.94,1.0)" font-family="Liberation Sans" font-size="15.2" font-weight="700" text-anchor="middle" stroke="#000" stroke-width="0.45">0</text>
<text transform="translate(29.2,340.1) scale(0.97,1.0)" font-family="Liberation Sans" font-size="14.5" font-weight="700" text-anchor="start" stroke="#000" stroke-width="0.45">10</text>
<text transform="translate(45.9,331.3) scale(0.88,1.0)" font-family="Liberation Sans" font-size="14.5" font-weight="700" text-anchor="start" stroke="#000" stroke-width="0.45">0</text>
<text transform="translate(136.5,340.1) scale(0.97,1.0)" font-family="Liberation Sans" font-size="14.5" font-weight="700" text-anchor="start" stroke="#000" stroke-width="0.45">10</text>
<text transform="translate(152.7,331.7) scale(0.88,1.0)" font-family="Liberation Sans" font-size="14.5" font-weight="700" text-anchor="start" stroke="#000" stroke-width="0.45">4</text>
<text transform="translate(93.5,354.3) scale(0.885,1.0)" font-family="Liberation Sans" font-size="15.3" font-weight="700" text-anchor="middle" stroke="#000" stroke-width="0.45">FL2-H</text>
<text transform="translate(99,369.2) scale(1.0,0.97)" font-family="Liberation Serif" font-size="13.6" font-weight="400" text-anchor="middle" stroke="#000" stroke-width="0.25">Log Fluorescence</text>
<text transform="translate(264.8,215.8) scale(1.0,0.97)" font-family="Liberation Serif" font-size="14" font-weight="400" text-anchor="middle" stroke="#000" stroke-width="0.25">MIP-2–mobilized</text>
<text transform="translate(264.8,232.9) scale(1.0,0.97)" font-family="Liberation Serif" font-size="14" font-weight="400" text-anchor="middle" stroke="#000" stroke-width="0.25">neutrophils</text>
<rect x="214.4" y="239.1" width="105.1" height="75.7" fill="none" stroke="#000" stroke-width="1.1"/>
<line x1="214" y1="314.8" x2="320" y2="314.8" stroke="#000" stroke-width="2" stroke-linecap="butt"/>
<line x1="214.4" y1="238.6" x2="214.4" y2="314.8" stroke="#000" stroke-width="1.4" stroke-linecap="butt"/>
<line x1="209.8" y1="314.8" x2="214.4" y2="314.8" stroke="#000" stroke-width="1" stroke-linecap="butt" shape-rendering="crispEdges"/>
<line x1="211.4" y1="312.43" x2="214.4" y2="312.43" stroke="#000" stroke-width="1" stroke-linecap="butt" shape-rendering="crispEdges"/>
<line x1="211.4" y1="310.07" x2="214.4" y2="310.07" stroke="#000" stroke-width="1" stroke-linecap="butt" shape-rendering="crispEdges"/>
<line x1="211.4" y1="307.7" x2="214.4" y2="307.7" stroke="#000" stroke-width="1" stroke-linecap="butt" shape-rendering="crispEdges"/>
<line x1="209.8" y1="305.34" x2="214.4" y2="305.34" stroke="#000" stroke-width="1" stroke-linecap="butt" shape-rendering="crispEdges"/>
<line x1="211.4" y1="302.97" x2="214.4" y2="302.97" stroke="#000" stroke-width="1" stroke-linecap="butt" shape-rendering="crispEdges"/>
<line x1="211.4" y1="300.61" x2="214.4" y2="300.61" stroke="#000" stroke-width="1" stroke-linecap="butt" shape-rendering="crispEdges"/>
<line x1="211.4" y1="298.24" x2="214.4" y2="298.24" stroke="#000" stroke-width="1" stroke-linecap="butt" shape-rendering="crispEdges"/>
<line x1="209.8" y1="295.88" x2="214.4" y2="295.88" stroke="#000" stroke-width="1" stroke-linecap="butt" shape-rendering="crispEdges"/>
<line x1="211.4" y1="293.51" x2="214.4" y2="293.51" stroke="#000" stroke-width="1" stroke-linecap="butt" shape-rendering="crispEdges"/>
<line x1="211.4" y1="291.14" x2="214.4" y2="291.14" stroke="#000" stroke-width="1" stroke-linecap="butt" shape-rendering="crispEdges"/>
<line x1="211.4" y1="288.78" x2="214.4" y2="288.78" stroke="#000" stroke-width="1" stroke-linecap="butt" shape-rendering="crispEdges"/>
<line x1="209.8" y1="286.41" x2="214.4" y2="286.41" stroke="#000" stroke-width="1" stroke-linecap="butt" shape-rendering="crispEdges"/>
<line x1="211.4" y1="284.05" x2="214.4" y2="284.05" stroke="#000" stroke-width="1" stroke-linecap="butt" shape-rendering="crispEdges"/>
<line x1="211.4" y1="281.68" x2="214.4" y2="281.68" stroke="#000" stroke-width="1" stroke-linecap="butt" shape-rendering="crispEdges"/>
<line x1="211.4" y1="279.32" x2="214.4" y2="279.32" stroke="#000" stroke-width="1" stroke-linecap="butt" shape-rendering="crispEdges"/>
<line x1="209.8" y1="276.95" x2="214.4" y2="276.95" stroke="#000" stroke-width="1" stroke-linecap="butt" shape-rendering="crispEdges"/>
<line x1="211.4" y1="274.58" x2="214.4" y2="274.58" stroke="#000" stroke-width="1" stroke-linecap="butt" shape-rendering="crispEdges"/>
<line x1="211.4" y1="272.22" x2="214.4" y2="272.22" stroke="#000" stroke-width="1" stroke-linecap="butt" shape-rendering="crispEdges"/>
<line x1="211.4" y1="269.85" x2="214.4" y2="269.85" stroke="#000" stroke-width="1" stroke-linecap="butt" shape-rendering="crispEdges"/>
<line x1="209.8" y1="267.49" x2="214.4" y2="267.49" stroke="#000" stroke-width="1" stroke-linecap="butt" shape-rendering="crispEdges"/>
<line x1="211.4" y1="265.12" x2="214.4" y2="265.12" stroke="#000" stroke-width="1" stroke-linecap="butt" shape-rendering="crispEdges"/>
<line x1="211.4" y1="262.76" x2="214.4" y2="262.76" stroke="#000" stroke-width="1" stroke-linecap="butt" shape-rendering="crispEdges"/>
<line x1="211.4" y1="260.39" x2="214.4" y2="260.39" stroke="#000" stroke-width="1" stroke-linecap="butt" shape-rendering="crispEdges"/>
<line x1="209.8" y1="258.02" x2="214.4" y2="258.02" stroke="#000" stroke-width="1" stroke-linecap="butt" shape-rendering="crispEdges"/>
<line x1="211.4" y1="255.66" x2="214.4" y2="255.66" stroke="#000" stroke-width="1" stroke-linecap="butt" shape-rendering="crispEdges"/>
<line x1="211.4" y1="253.29" x2="214.4" y2="253.29" stroke="#000" stroke-width="1" stroke-linecap="butt" shape-rendering="crispEdges"/>
<line x1="211.4" y1="250.93" x2="214.4" y2="250.93" stroke="#000" stroke-width="1" stroke-linecap="butt" shape-rendering="crispEdges"/>
<line x1="209.8" y1="248.56" x2="214.4" y2="248.56" stroke="#000" stroke-width="1" stroke-linecap="butt" shape-rendering="crispEdges"/>
<line x1="211.4" y1="246.2" x2="214.4" y2="246.2" stroke="#000" stroke-width="1" stroke-linecap="butt" shape-rendering="crispEdges"/>
<line x1="211.4" y1="243.83" x2="214.4" y2="243.83" stroke="#000" stroke-width="1" stroke-linecap="butt" shape-rendering="crispEdges"/>
<line x1="211.4" y1="241.47" x2="214.4" y2="241.47" stroke="#000" stroke-width="1" stroke-linecap="butt" shape-rendering="crispEdges"/>
<line x1="209.8" y1="239.1" x2="214.4" y2="239.1" stroke="#000" stroke-width="1" stroke-linecap="butt" shape-rendering="crispEdges"/>
<line x1="214.4" y1="314.8" x2="214.4" y2="320.4" stroke="#000" stroke-width="1.5" stroke-linecap="butt"/>
<line x1="222.31" y1="314.8" x2="222.31" y2="318.6" stroke="#000" stroke-width="1.5" stroke-linecap="butt"/>
<line x1="226.94" y1="314.8" x2="226.94" y2="318.6" stroke="#000" stroke-width="1.5" stroke-linecap="butt"/>
<line x1="230.22" y1="314.8" x2="230.22" y2="318.6" stroke="#000" stroke-width="1.5" stroke-linecap="butt"/>
<line x1="232.77" y1="314.8" x2="232.77" y2="318.6" stroke="#000" stroke-width="1.5" stroke-linecap="butt"/>
<line x1="234.85" y1="314.8" x2="234.85" y2="318.6" stroke="#000" stroke-width="1.5" stroke-linecap="butt"/>
<line x1="236.6" y1="314.8" x2="236.6" y2="318.6" stroke="#000" stroke-width="1.5" stroke-linecap="butt"/>
<line x1="238.13" y1="314.8" x2="238.13" y2="318.6" stroke="#000" stroke-width="1.5" stroke-linecap="butt"/>
<line x1="239.47" y1="314.8" x2="239.47" y2="318.6" stroke="#000" stroke-width="1.5" stroke-linecap="butt"/>
<line x1="240.68" y1="314.8" x2="240.68" y2="320.4" stroke="#000" stroke-width="1.5" stroke-linecap="butt"/>
<line x1="248.58" y1="314.8" x2="248.58" y2="318.6" stroke="#000" stroke-width="1.5" stroke-linecap="butt"/>
<line x1="253.21" y1="314.8" x2="253.21" y2="318.6" stroke="#000" stroke-width="1.5" stroke-linecap="butt"/>
<line x1="256.49" y1="314.8" x2="256.49" y2="318.6" stroke="#000" stroke-width="1.5" stroke-linecap="butt"/>
<line x1="259.04" y1="314.8" x2="259.04" y2="318.6" stroke="#000" stroke-width="1.5" stroke-linecap="butt"/>
<line x1="261.12" y1="314.8" x2="261.12" y2="318.6" stroke="#000" stroke-width="1.5" stroke-linecap="butt"/>
<line x1="262.88" y1="314.8" x2="262.88" y2="318.6" stroke="#000" stroke-width="1.5" stroke-linecap="butt"/>
<line x1="264.4" y1="314.8" x2="264.4" y2="318.6" stroke="#000" stroke-width="1.5" stroke-linecap="butt"/>
<line x1="265.75" y1="314.8" x2="265.75" y2="318.6" stroke="#000" stroke-width="1.5" stroke-linecap="butt"/>
<line x1="266.95" y1="314.8" x2="266.95" y2="320.4" stroke="#000" stroke-width="1.5" stroke-linecap="butt"/>
<line x1="274.86" y1="314.8" x2="274.86" y2="318.6" stroke="#000" stroke-width="1.5" stroke-linecap="butt"/>
<line x1="279.49" y1="314.8" x2="279.49" y2="318.6" stroke="#000" stroke-width="1.5" stroke-linecap="butt"/>
<line x1="282.77" y1="314.8" x2="282.77" y2="318.6" stroke="#000" stroke-width="1.5" stroke-linecap="butt"/>
<line x1="285.32" y1="314.8" x2="285.32" y2="318.6" stroke="#000" stroke-width="1.5" stroke-linecap="butt"/>
<line x1="287.4" y1="314.8" x2="287.4" y2="318.6" stroke="#000" stroke-width="1.5" stroke-linecap="butt"/>
<line x1="289.15" y1="314.8" x2="289.15" y2="318.6" stroke="#000" stroke-width="1.5" stroke-linecap="butt"/>
<line x1="290.68" y1="314.8" x2="290.68" y2="318.6" stroke="#000" stroke-width="1.5" stroke-linecap="butt"/>
<line x1="292.02" y1="314.8" x2="292.02" y2="318.6" stroke="#000" stroke-width="1.5" stroke-linecap="butt"/>
<line x1="293.23" y1="314.8" x2="293.23" y2="320.4" stroke="#000" stroke-width="1.5" stroke-linecap="butt"/>
<line x1="301.13" y1="314.8" x2="301.13" y2="318.6" stroke="#000" stroke-width="1.5" stroke-linecap="butt"/>
<line x1="305.76" y1="314.8" x2="305.76" y2="318.6" stroke="#000" stroke-width="1.5" stroke-linecap="butt"/>
<line x1="309.04" y1="314.8" x2="309.04" y2="318.6" stroke="#000" stroke-width="1.5" stroke-linecap="butt"/>
<line x1="311.59" y1="314.8" x2="311.59" y2="318.6" stroke="#000" stroke-width="1.5" stroke-linecap="butt"/>
<line x1="313.67" y1="314.8" x2="313.67" y2="318.6" stroke="#000" stroke-width="1.5" stroke-linecap="butt"/>
<line x1="315.43" y1="314.8" x2="315.43" y2="318.6" stroke="#000" stroke-width="1.5" stroke-linecap="butt"/>
<line x1="316.95" y1="314.8" x2="316.95" y2="318.6" stroke="#000" stroke-width="1.5" stroke-linecap="butt"/>
<line x1="318.3" y1="314.8" x2="318.3" y2="318.6" stroke="#000" stroke-width="1.5" stroke-linecap="butt"/>
<line x1="319.5" y1="314.8" x2="319.5" y2="319.8" stroke="#000" stroke-width="1.1" stroke-linecap="butt"/>
<polygon points="265,314.8 265,314.2 268,313.6 270.5,312 273,308.5 275.3,300.5 277.7,288.5 280.3,279 283,272.5 285.5,279 288.3,288.5 290.5,300.5 292.5,308.5 294.5,312 297,313.6 300,314.2 300,314.8" fill="#000"/>
<polyline points="224.5,312 229,306 233,297 237,284 240.5,269.5 242.2,269.8 245,284 246.8,297 248,306 248.5,311.5" fill="none" stroke="#000" stroke-width="1.2" stroke-linecap="butt" stroke-linejoin="miter" stroke-dasharray="1.2 3.6"/>
<text transform="translate(233.2,263.4) scale(1.0,0.97)" font-family="Liberation Serif" font-size="14" font-weight="400" text-anchor="start" stroke="#000" stroke-width="0.25">ic</text>
<text transform="translate(268.8,270.3) scale(1.0,0.97)" font-family="Liberation Serif" font-size="14" font-weight="400" text-anchor="start" stroke="#000" stroke-width="0.25">CD11a</text>
<text transform="translate(189.1,279.7) rotate(-90) scale(0.915,1.0)" font-family="Liberation Sans" font-size="15.3" font-weight="700" text-anchor="middle" stroke="#000" stroke-width="0.45">Counts</text>
<text transform="translate(204.3,239.4) rotate(-90) scale(0.94,1.0)" font-family="Liberation Sans" font-size="15.2" font-weight="700" text-anchor="middle" stroke="#000" stroke-width="0.45">80</text>
<text transform="translate(204.3,313.7) rotate(-90) scale(0.94,1.0)" font-family="Liberation Sans" font-size="15.2" font-weight="700" text-anchor="middle" stroke="#000" stroke-width="0.45">0</text>
<text transform="translate(203,335.6) scale(0.97,1.0)" font-family="Liberation Sans" font-size="14.5" font-weight="700" text-anchor="start" stroke="#000" stroke-width="0.45">10</text>
<text transform="translate(219.3,327.1) scale(0.88,1.0)" font-family="Liberation Sans" font-size="14.5" font-weight="700" text-anchor="start" stroke="#000" stroke-width="0.45">0</text>
<text transform="translate(306.6,335.5) scale(0.97,1.0)" font-family="Liberation Sans" font-size="14.5" font-weight="700" text-anchor="start" stroke="#000" stroke-width="0.45">10</text>
<text transform="translate(321.8,328.1) scale(0.88,1.0)" font-family="Liberation Sans" font-size="14.5" font-weight="700" text-anchor="start" stroke="#000" stroke-width="0.45">4</text>
<text transform="translate(265,348.8) scale(0.885,1.0)" font-family="Liberation Sans" font-size="15.3" font-weight="700" text-anchor="middle" stroke="#000" stroke-width="0.45">FL2-H</text>
<text transform="translate(268.5,367.5) scale(1.0,0.97)" font-family="Liberation Serif" font-size="13.6" font-weight="400" text-anchor="middle" stroke="#000" stroke-width="0.25">Log Fluorescence</text>
<text x="336.3" y="18.4" font-family="Liberation Sans" font-size="24" font-weight="700" stroke="#000" stroke-width="0.6">B</text>
<line x1="412.3" y1="24.2" x2="412.3" y2="135.8" stroke="#000" stroke-width="2.2" stroke-linecap="butt"/>
<line x1="411.2" y1="134.8" x2="513" y2="134.8" stroke="#000" stroke-width="2.4" stroke-linecap="butt"/>
<line x1="407.3" y1="134.6" x2="412.3" y2="134.6" stroke="#000" stroke-width="1.8" stroke-linecap="butt"/>
<text transform="translate(396.6,139.2) scale(0.93,0.97)" font-family="Liberation Serif" font-size="12" font-weight="700" text-anchor="end" stroke="#000" stroke-width="0.2">0</text>
<line x1="407.3" y1="98.07" x2="412.3" y2="98.07" stroke="#000" stroke-width="1.8" stroke-linecap="butt"/>
<text transform="translate(396.6,102.67) scale(0.93,0.97)" font-family="Liberation Serif" font-size="12" font-weight="700" text-anchor="end" stroke="#000" stroke-width="0.2">100</text>
<line x1="407.3" y1="61.54" x2="412.3" y2="61.54" stroke="#000" stroke-width="1.8" stroke-linecap="butt"/>
<text transform="translate(396.6,66.14) scale(0.93,0.97)" font-family="Liberation Serif" font-size="12" font-weight="700" text-anchor="end" stroke="#000" stroke-width="0.2">200</text>
<line x1="407.3" y1="25.01" x2="412.3" y2="25.01" stroke="#000" stroke-width="1.8" stroke-linecap="butt"/>
<text transform="translate(396.6,29.61) scale(0.93,0.97)" font-family="Liberation Serif" font-size="12" font-weight="700" text-anchor="end" stroke="#000" stroke-width="0.2">300</text>
<rect x="423" y="118" width="19" height="16.8" fill="#000"/>
<line x1="432.5" y1="118" x2="432.5" y2="116.6" stroke="#000" stroke-width="2" stroke-linecap="butt"/>
<line x1="428.2" y1="116.6" x2="436.8" y2="116.6" stroke="#000" stroke-width="2" stroke-linecap="butt"/>
<rect x="453.8" y="104.3" width="19" height="30.5" fill="#000"/>
<line x1="463.3" y1="104.3" x2="463.3" y2="98.2" stroke="#000" stroke-width="2" stroke-linecap="butt"/>
<line x1="458.55" y1="98.2" x2="468.05" y2="98.2" stroke="#000" stroke-width="2" stroke-linecap="butt"/>
<rect x="484.1" y="33.5" width="18.7" height="101.3" fill="#000"/>
<line x1="493.5" y1="33.5" x2="493.5" y2="25.6" stroke="#000" stroke-width="2" stroke-linecap="butt"/>
<line x1="488.5" y1="25.6" x2="498.5" y2="25.6" stroke="#000" stroke-width="2" stroke-linecap="butt"/>
<polyline points="459,60.6 459,12 485,12 485,17.6" fill="none" stroke="#000" stroke-width="1.5" stroke-linecap="butt" stroke-linejoin="miter"/>
<text transform="translate(472.5,17) scale(1.0,0.97)" font-family="Liberation Serif" font-size="20" font-weight="400" text-anchor="middle" stroke="#000" stroke-width="0.25">*</text>
<text transform="translate(436.5,148.8) scale(1.0,0.97)" font-family="Liberation Serif" font-size="11" font-weight="700" text-anchor="middle" stroke="#000" stroke-width="0.2">BM</text>
<text transform="translate(466.2,149) scale(1.0,0.97)" font-family="Liberation Serif" font-size="11" font-weight="700" text-anchor="middle" stroke="#000" stroke-width="0.2">Veh.</text>
<text transform="translate(502,149) scale(1.0,0.97)" font-family="Liberation Serif" font-size="11" font-weight="700" text-anchor="middle" stroke="#000" stroke-width="0.2">MIP-2</text>
<line x1="460" y1="153" x2="507.7" y2="153" stroke="#000" stroke-width="1.5" stroke-linecap="butt"/>
<text transform="translate(487,167.5) scale(1.0,0.97)" font-family="Liberation Serif" font-size="11.3" font-weight="700" text-anchor="middle" stroke="#000" stroke-width="0.2">Mobilized</text>
<text transform="translate(486.5,177.5) scale(1.0,0.97)" font-family="Liberation Serif" font-size="11.3" font-weight="700" text-anchor="middle" stroke="#000" stroke-width="0.2">Neutrophils</text>
<text transform="translate(351.3,90.5) rotate(-90) scale(1.0,0.97)" font-family="Liberation Serif" font-size="14.3" font-weight="400" text-anchor="middle" stroke="#000" stroke-width="0.25">CD11b</text>
<text transform="translate(367.4,90.6) rotate(-90) scale(1.0,0.97)" font-family="Liberation Serif" font-size="13.8" font-weight="400" text-anchor="middle" stroke="#000" stroke-width="0.25">Geo mean fluorescence</text>
<text x="338" y="212" font-family="Liberation Sans" font-size="24" font-weight="700" stroke="#000" stroke-width="0.6">D</text>
<line x1="410" y1="224.4" x2="410" y2="335.3" stroke="#000" stroke-width="2.2" stroke-linecap="butt"/>
<line x1="409" y1="334.2" x2="511.5" y2="334.2" stroke="#000" stroke-width="2.4" stroke-linecap="butt"/>
<line x1="406" y1="334" x2="410" y2="334" stroke="#000" stroke-width="1.8" stroke-linecap="butt"/>
<text transform="translate(397.9,339.4) scale(1.0,0.97)" font-family="Liberation Serif" font-size="12" font-weight="700" text-anchor="end" stroke="#000" stroke-width="0.2">0</text>
<line x1="406" y1="279.85" x2="410" y2="279.85" stroke="#000" stroke-width="1.8" stroke-linecap="butt"/>
<text transform="translate(397.9,285.25) scale(1.0,0.97)" font-family="Liberation Serif" font-size="12" font-weight="700" text-anchor="end" stroke="#000" stroke-width="0.2">250</text>
<line x1="406" y1="225.7" x2="410" y2="225.7" stroke="#000" stroke-width="1.8" stroke-linecap="butt"/>
<text transform="translate(397.9,231.1) scale(1.0,0.97)" font-family="Liberation Serif" font-size="12" font-weight="700" text-anchor="end" stroke="#000" stroke-width="0.2">500</text>
<rect x="424.3" y="311.4" width="17.5" height="22.8" fill="#000"/>
<line x1="433" y1="311.4" x2="433" y2="309.3" stroke="#000" stroke-width="2" stroke-linecap="butt"/>
<line x1="427.75" y1="309.3" x2="438.25" y2="309.3" stroke="#000" stroke-width="2" stroke-linecap="butt"/>
<rect x="453.2" y="279" width="20" height="55.2" fill="#000"/>
<line x1="463.2" y1="279" x2="463.2" y2="277" stroke="#000" stroke-width="2" stroke-linecap="butt"/>
<line x1="457.7" y1="277" x2="468.7" y2="277" stroke="#000" stroke-width="2" stroke-linecap="butt"/>
<rect x="485.4" y="273" width="17.5" height="61.2" fill="#000"/>
<line x1="494.2" y1="273" x2="494.2" y2="265.6" stroke="#000" stroke-width="2" stroke-linecap="butt"/>
<line x1="487.95" y1="265.6" x2="500.45" y2="265.6" stroke="#000" stroke-width="2" stroke-linecap="butt"/>
<text transform="translate(432.1,349.6) scale(1.0,0.97)" font-family="Liberation Serif" font-size="11" font-weight="700" text-anchor="middle" stroke="#000" stroke-width="0.2">BM</text>
<text transform="translate(464.3,349.6) scale(1.0,0.97)" font-family="Liberation Serif" font-size="11" font-weight="700" text-anchor="middle" stroke="#000" stroke-width="0.2">Veh.</text>
<text transform="translate(501,349.6) scale(1.0,0.97)" font-family="Liberation Serif" font-size="11" font-weight="700" text-anchor="middle" stroke="#000" stroke-width="0.2">MIP-2</text>
<line x1="456.4" y1="355.3" x2="500.8" y2="355.3" stroke="#000" stroke-width="1.5" stroke-linecap="butt"/>
<text transform="translate(482.2,368.4) scale(1.0,0.97)" font-family="Liberation Serif" font-size="11.3" font-weight="700" text-anchor="middle" stroke="#000" stroke-width="0.2">Mobilized</text>
<text transform="translate(482.2,379.4) scale(1.0,0.97)" font-family="Liberation Serif" font-size="11.3" font-weight="700" text-anchor="middle" stroke="#000" stroke-width="0.2">Neutrophils</text>
<text transform="translate(351,279.6) rotate(-90) scale(1.0,0.97)" font-family="Liberation Serif" font-size="14.3" font-weight="400" text-anchor="middle" stroke="#000" stroke-width="0.25">CD11a</text>
<text transform="translate(367.2,280.1) rotate(-90) scale(1.0,0.97)" font-family="Liberation Serif" font-size="13.8" font-weight="400" text-anchor="middle" stroke="#000" stroke-width="0.25">Geo mean fluorescence</text>
<text x="1.3" y="392.4" font-family="Liberation Sans" font-size="24" font-weight="700" stroke="#000" stroke-width="0.6">E</text>
<line x1="69" y1="424.15" x2="69" y2="625.1" stroke="#000" stroke-width="2" stroke-linecap="butt"/>
<line x1="68" y1="624.3" x2="316.25" y2="624.3" stroke="#000" stroke-width="2" stroke-linecap="butt"/>
<line x1="64.5" y1="624.3" x2="69" y2="624.3" stroke="#000" stroke-width="1.6" stroke-linecap="butt"/>
<text transform="translate(60.6,631.3) scale(1.06,0.97)" font-family="Liberation Serif" font-size="13.6" font-weight="400" text-anchor="end" stroke="#000" stroke-width="0.25">0</text>
<line x1="64.5" y1="595.85" x2="69" y2="595.85" stroke="#000" stroke-width="1.6" stroke-linecap="butt"/>
<text transform="translate(60.6,602.85) scale(1.06,0.97)" font-family="Liberation Serif" font-size="13.6" font-weight="400" text-anchor="end" stroke="#000" stroke-width="0.25">1</text>
<line x1="64.5" y1="567.4" x2="69" y2="567.4" stroke="#000" stroke-width="1.6" stroke-linecap="butt"/>
<text transform="translate(60.6,574.4) scale(1.06,0.97)" font-family="Liberation Serif" font-size="13.6" font-weight="400" text-anchor="end" stroke="#000" stroke-width="0.25">2</text>
<line x1="64.5" y1="538.95" x2="69" y2="538.95" stroke="#000" stroke-width="1.6" stroke-linecap="butt"/>
<text transform="translate(60.6,545.95) scale(1.06,0.97)" font-family="Liberation Serif" font-size="13.6" font-weight="400" text-anchor="end" stroke="#000" stroke-width="0.25">3</text>
<line x1="64.5" y1="510.5" x2="69" y2="510.5" stroke="#000" stroke-width="1.6" stroke-linecap="butt"/>
<text transform="translate(60.6,517.5) scale(1.06,0.97)" font-family="Liberation Serif" font-size="13.6" font-weight="400" text-anchor="end" stroke="#000" stroke-width="0.25">4</text>
<line x1="64.5" y1="482.05" x2="69" y2="482.05" stroke="#000" stroke-width="1.6" stroke-linecap="butt"/>
<text transform="translate(60.6,489.05) scale(1.06,0.97)" font-family="Liberation Serif" font-size="13.6" font-weight="400" text-anchor="end" stroke="#000" stroke-width="0.25">5</text>
<line x1="64.5" y1="453.6" x2="69" y2="453.6" stroke="#000" stroke-width="1.6" stroke-linecap="butt"/>
<text transform="translate(60.6,460.6) scale(1.06,0.97)" font-family="Liberation Serif" font-size="13.6" font-weight="400" text-anchor="end" stroke="#000" stroke-width="0.25">6</text>
<line x1="64.5" y1="425.15" x2="69" y2="425.15" stroke="#000" stroke-width="1.6" stroke-linecap="butt"/>
<text transform="translate(60.6,432.15) scale(1.06,0.97)" font-family="Liberation Serif" font-size="13.6" font-weight="400" text-anchor="end" stroke="#000" stroke-width="0.25">7</text>
<line x1="69" y1="624.3" x2="69" y2="628.3" stroke="#000" stroke-width="1.6" stroke-linecap="butt"/>
<text transform="translate(68,643) scale(1.0,0.97)" font-family="Liberation Serif" font-size="13.5" font-weight="400" text-anchor="middle" stroke="#000" stroke-width="0.25">0</text>
<line x1="93.67" y1="624.3" x2="93.67" y2="628.3" stroke="#000" stroke-width="1.6" stroke-linecap="butt"/>
<text transform="translate(92.67,643) scale(1.0,0.97)" font-family="Liberation Serif" font-size="13.5" font-weight="400" text-anchor="middle" stroke="#000" stroke-width="0.25">10</text>
<line x1="118.35" y1="624.3" x2="118.35" y2="628.3" stroke="#000" stroke-width="1.6" stroke-linecap="butt"/>
<text transform="translate(117.35,643) scale(1.0,0.97)" font-family="Liberation Serif" font-size="13.5" font-weight="400" text-anchor="middle" stroke="#000" stroke-width="0.25">20</text>
<line x1="143.02" y1="624.3" x2="143.02" y2="628.3" stroke="#000" stroke-width="1.6" stroke-linecap="butt"/>
<text transform="translate(142.02,643) scale(1.0,0.97)" font-family="Liberation Serif" font-size="13.5" font-weight="400" text-anchor="middle" stroke="#000" stroke-width="0.25">30</text>
<line x1="167.7" y1="624.3" x2="167.7" y2="628.3" stroke="#000" stroke-width="1.6" stroke-linecap="butt"/>
<text transform="translate(166.7,643) scale(1.0,0.97)" font-family="Liberation Serif" font-size="13.5" font-weight="400" text-anchor="middle" stroke="#000" stroke-width="0.25">40</text>
<line x1="192.38" y1="624.3" x2="192.38" y2="628.3" stroke="#000" stroke-width="1.6" stroke-linecap="butt"/>
<text transform="translate(191.38,643) scale(1.0,0.97)" font-family="Liberation Serif" font-size="13.5" font-weight="400" text-anchor="middle" stroke="#000" stroke-width="0.25">50</text>
<line x1="217.05" y1="624.3" x2="217.05" y2="628.3" stroke="#000" stroke-width="1.6" stroke-linecap="butt"/>
<text transform="translate(216.05,643) scale(1.0,0.97)" font-family="Liberation Serif" font-size="13.5" font-weight="400" text-anchor="middle" stroke="#000" stroke-width="0.25">60</text>
<line x1="241.72" y1="624.3" x2="241.72" y2="628.3" stroke="#000" stroke-width="1.6" stroke-linecap="butt"/>
<text transform="translate(240.72,643) scale(1.0,0.97)" font-family="Liberation Serif" font-size="13.5" font-weight="400" text-anchor="middle" stroke="#000" stroke-width="0.25">70</text>
<line x1="266.4" y1="624.3" x2="266.4" y2="628.3" stroke="#000" stroke-width="1.6" stroke-linecap="butt"/>
<text transform="translate(265.4,643) scale(1.0,0.97)" font-family="Liberation Serif" font-size="13.5" font-weight="400" text-anchor="middle" stroke="#000" stroke-width="0.25">80</text>
<line x1="291.07" y1="624.3" x2="291.07" y2="628.3" stroke="#000" stroke-width="1.6" stroke-linecap="butt"/>
<text transform="translate(290.07,643) scale(1.0,0.97)" font-family="Liberation Serif" font-size="13.5" font-weight="400" text-anchor="middle" stroke="#000" stroke-width="0.25">90</text>
<line x1="315.75" y1="624.3" x2="315.75" y2="628.3" stroke="#000" stroke-width="1.6" stroke-linecap="butt"/>
<text transform="translate(314.75,643) scale(1.0,0.97)" font-family="Liberation Serif" font-size="13.5" font-weight="400" text-anchor="middle" stroke="#000" stroke-width="0.25">100</text>
<text transform="translate(200.4,660.7) scale(1.0,0.97)" font-family="Liberation Serif" font-size="13.7" font-weight="400" text-anchor="middle" stroke="#000" stroke-width="0.25">Time (min)</text>
<text transform="translate(45.3,523.2) rotate(-90) scale(1.0,0.97)" font-family="Liberation Serif" font-size="13.8" font-weight="400" text-anchor="middle" stroke="#000" stroke-width="0.25">Neutrophils per mL (× 10<tspan font-size="7.5" dy="-4.5">4</tspan><tspan dy="4.5">)</tspan></text>
<line x1="93.8" y1="423" x2="93.8" y2="624" stroke="#000" stroke-width="2" stroke-linecap="butt" stroke-dasharray="5.6 3.9"/>
<line x1="167.2" y1="423" x2="167.2" y2="624" stroke="#000" stroke-width="2" stroke-linecap="butt" stroke-dasharray="5.6 3.9"/>
<line x1="117.9" y1="445.5" x2="117.9" y2="624" stroke="#000" stroke-width="2" stroke-linecap="butt" stroke-dasharray="5.6 3.9"/>
<line x1="142" y1="445.5" x2="142" y2="624" stroke="#000" stroke-width="2" stroke-linecap="butt" stroke-dasharray="5.6 3.9"/>
<line x1="96" y1="423" x2="165.5" y2="423" stroke="#000" stroke-width="3.2" stroke-linecap="butt"/>
<line x1="116.9" y1="446.2" x2="142.8" y2="446.2" stroke="#000" stroke-width="3.2" stroke-linecap="butt"/>
<text transform="translate(128.5,413) scale(1.0,0.97)" font-family="Liberation Serif" font-size="14" font-weight="400" text-anchor="middle" stroke="#000" stroke-width="0.25">WT-3</text>
<text transform="translate(130,439.6) scale(1.0,0.97)" font-family="Liberation Serif" font-size="14" font-weight="400" text-anchor="middle" stroke="#000" stroke-width="0.25">MIP-2</text>
<polyline points="81.34,602.96 106.01,610.64 130.69,614.06 155.36,594.43 180.04,534.97 204.71,514.48 229.39,535.54 254.06,555.45 278.74,568.54 303.41,579.35" fill="none" stroke="#000" stroke-width="1.6" stroke-linecap="butt" stroke-linejoin="round"/>
<line x1="81.34" y1="595.85" x2="81.34" y2="610.07" stroke="#000" stroke-width="1.6" stroke-linecap="butt"/>
<line x1="77.84" y1="595.85" x2="84.84" y2="595.85" stroke="#000" stroke-width="1.6" stroke-linecap="butt"/>
<line x1="77.84" y1="610.07" x2="84.84" y2="610.07" stroke="#000" stroke-width="1.6" stroke-linecap="butt"/>
<line x1="106.01" y1="604.95" x2="106.01" y2="616.33" stroke="#000" stroke-width="1.6" stroke-linecap="butt"/>
<line x1="102.51" y1="604.95" x2="109.51" y2="604.95" stroke="#000" stroke-width="1.6" stroke-linecap="butt"/>
<line x1="102.51" y1="616.33" x2="109.51" y2="616.33" stroke="#000" stroke-width="1.6" stroke-linecap="butt"/>
<line x1="155.36" y1="586.75" x2="155.36" y2="602.11" stroke="#000" stroke-width="1.6" stroke-linecap="butt"/>
<line x1="151.86" y1="586.75" x2="158.86" y2="586.75" stroke="#000" stroke-width="1.6" stroke-linecap="butt"/>
<line x1="151.86" y1="602.11" x2="158.86" y2="602.11" stroke="#000" stroke-width="1.6" stroke-linecap="butt"/>
<line x1="180.04" y1="515.34" x2="180.04" y2="554.6" stroke="#000" stroke-width="1.6" stroke-linecap="butt"/>
<line x1="176.54" y1="515.34" x2="183.54" y2="515.34" stroke="#000" stroke-width="1.6" stroke-linecap="butt"/>
<line x1="176.54" y1="554.6" x2="183.54" y2="554.6" stroke="#000" stroke-width="1.6" stroke-linecap="butt"/>
<line x1="204.71" y1="505.09" x2="204.71" y2="523.87" stroke="#000" stroke-width="1.6" stroke-linecap="butt"/>
<line x1="201.21" y1="505.09" x2="208.21" y2="505.09" stroke="#000" stroke-width="1.6" stroke-linecap="butt"/>
<line x1="201.21" y1="523.87" x2="208.21" y2="523.87" stroke="#000" stroke-width="1.6" stroke-linecap="butt"/>
<line x1="229.39" y1="523.3" x2="229.39" y2="547.77" stroke="#000" stroke-width="1.6" stroke-linecap="butt"/>
<line x1="225.89" y1="523.3" x2="232.89" y2="523.3" stroke="#000" stroke-width="1.6" stroke-linecap="butt"/>
<line x1="225.89" y1="547.77" x2="232.89" y2="547.77" stroke="#000" stroke-width="1.6" stroke-linecap="butt"/>
<line x1="254.06" y1="544.64" x2="254.06" y2="566.26" stroke="#000" stroke-width="1.6" stroke-linecap="butt"/>
<line x1="250.56" y1="544.64" x2="257.56" y2="544.64" stroke="#000" stroke-width="1.6" stroke-linecap="butt"/>
<line x1="250.56" y1="566.26" x2="257.56" y2="566.26" stroke="#000" stroke-width="1.6" stroke-linecap="butt"/>
<line x1="278.74" y1="560" x2="278.74" y2="577.07" stroke="#000" stroke-width="1.6" stroke-linecap="butt"/>
<line x1="275.24" y1="560" x2="282.24" y2="560" stroke="#000" stroke-width="1.6" stroke-linecap="butt"/>
<line x1="275.24" y1="577.07" x2="282.24" y2="577.07" stroke="#000" stroke-width="1.6" stroke-linecap="butt"/>
<line x1="303.41" y1="567.97" x2="303.41" y2="590.73" stroke="#000" stroke-width="1.6" stroke-linecap="butt"/>
<line x1="299.91" y1="567.97" x2="306.91" y2="567.97" stroke="#000" stroke-width="1.6" stroke-linecap="butt"/>
<line x1="299.91" y1="590.73" x2="306.91" y2="590.73" stroke="#000" stroke-width="1.6" stroke-linecap="butt"/>
<circle cx="81.34" cy="602.96" r="3.4" fill="#000"/>
<circle cx="106.01" cy="610.64" r="3.4" fill="#000"/>
<circle cx="130.69" cy="614.06" r="3.4" fill="#000"/>
<circle cx="155.36" cy="594.43" r="3.4" fill="#000"/>
<circle cx="180.04" cy="534.97" r="3.4" fill="#000"/>
<circle cx="204.71" cy="514.48" r="3.4" fill="#000"/>
<circle cx="229.39" cy="535.54" r="3.4" fill="#000"/>
<circle cx="254.06" cy="555.45" r="3.4" fill="#000"/>
<circle cx="278.74" cy="568.54" r="3.4" fill="#000"/>
<circle cx="303.41" cy="579.35" r="3.4" fill="#000"/>
<polyline points="81.34,586.18 106.01,593.57 130.69,589.59 155.36,536.1 180.04,469.53 204.71,457.58 229.39,514.48 254.06,546.92 278.74,566.83 303.41,577.64" fill="none" stroke="#000" stroke-width="1.6" stroke-linecap="butt" stroke-linejoin="round"/>
<line x1="81.34" y1="579.35" x2="81.34" y2="593" stroke="#000" stroke-width="1.6" stroke-linecap="butt"/>
<line x1="77.84" y1="579.35" x2="84.84" y2="579.35" stroke="#000" stroke-width="1.6" stroke-linecap="butt"/>
<line x1="77.84" y1="593" x2="84.84" y2="593" stroke="#000" stroke-width="1.6" stroke-linecap="butt"/>
<line x1="106.01" y1="584.75" x2="106.01" y2="602.39" stroke="#000" stroke-width="1.6" stroke-linecap="butt"/>
<line x1="102.51" y1="584.75" x2="109.51" y2="584.75" stroke="#000" stroke-width="1.6" stroke-linecap="butt"/>
<line x1="102.51" y1="602.39" x2="109.51" y2="602.39" stroke="#000" stroke-width="1.6" stroke-linecap="butt"/>
<line x1="130.69" y1="578.78" x2="130.69" y2="600.4" stroke="#000" stroke-width="1.6" stroke-linecap="butt"/>
<line x1="127.19" y1="578.78" x2="134.19" y2="578.78" stroke="#000" stroke-width="1.6" stroke-linecap="butt"/>
<line x1="127.19" y1="600.4" x2="134.19" y2="600.4" stroke="#000" stroke-width="1.6" stroke-linecap="butt"/>
<line x1="155.36" y1="518.75" x2="155.36" y2="553.46" stroke="#000" stroke-width="1.6" stroke-linecap="butt"/>
<line x1="151.86" y1="518.75" x2="158.86" y2="518.75" stroke="#000" stroke-width="1.6" stroke-linecap="butt"/>
<line x1="151.86" y1="553.46" x2="158.86" y2="553.46" stroke="#000" stroke-width="1.6" stroke-linecap="butt"/>
<line x1="180.04" y1="461.57" x2="180.04" y2="477.5" stroke="#000" stroke-width="1.6" stroke-linecap="butt"/>
<line x1="176.54" y1="461.57" x2="183.54" y2="461.57" stroke="#000" stroke-width="1.6" stroke-linecap="butt"/>
<line x1="176.54" y1="477.5" x2="183.54" y2="477.5" stroke="#000" stroke-width="1.6" stroke-linecap="butt"/>
<line x1="204.71" y1="443.93" x2="204.71" y2="471.24" stroke="#000" stroke-width="1.6" stroke-linecap="butt"/>
<line x1="201.21" y1="443.93" x2="208.21" y2="443.93" stroke="#000" stroke-width="1.6" stroke-linecap="butt"/>
<line x1="201.21" y1="471.24" x2="208.21" y2="471.24" stroke="#000" stroke-width="1.6" stroke-linecap="butt"/>
<line x1="229.39" y1="503.96" x2="229.39" y2="525.01" stroke="#000" stroke-width="1.6" stroke-linecap="butt"/>
<line x1="225.89" y1="503.96" x2="232.89" y2="503.96" stroke="#000" stroke-width="1.6" stroke-linecap="butt"/>
<line x1="225.89" y1="525.01" x2="232.89" y2="525.01" stroke="#000" stroke-width="1.6" stroke-linecap="butt"/>
<line x1="254.06" y1="538.95" x2="254.06" y2="554.88" stroke="#000" stroke-width="1.6" stroke-linecap="butt"/>
<line x1="250.56" y1="538.95" x2="257.56" y2="538.95" stroke="#000" stroke-width="1.6" stroke-linecap="butt"/>
<line x1="250.56" y1="554.88" x2="257.56" y2="554.88" stroke="#000" stroke-width="1.6" stroke-linecap="butt"/>
<line x1="278.74" y1="559.15" x2="278.74" y2="574.51" stroke="#000" stroke-width="1.6" stroke-linecap="butt"/>
<line x1="275.24" y1="559.15" x2="282.24" y2="559.15" stroke="#000" stroke-width="1.6" stroke-linecap="butt"/>
<line x1="275.24" y1="574.51" x2="282.24" y2="574.51" stroke="#000" stroke-width="1.6" stroke-linecap="butt"/>
<line x1="303.41" y1="565.69" x2="303.41" y2="589.59" stroke="#000" stroke-width="1.6" stroke-linecap="butt"/>
<line x1="299.91" y1="565.69" x2="306.91" y2="565.69" stroke="#000" stroke-width="1.6" stroke-linecap="butt"/>
<line x1="299.91" y1="589.59" x2="306.91" y2="589.59" stroke="#000" stroke-width="1.6" stroke-linecap="butt"/>
<rect x="78.14" y="582.98" width="6.4" height="6.4" fill="#000"/>
<rect x="102.81" y="590.37" width="6.4" height="6.4" fill="#000"/>
<rect x="127.49" y="586.39" width="6.4" height="6.4" fill="#000"/>
<rect x="152.16" y="532.9" width="6.4" height="6.4" fill="#000"/>
<rect x="176.84" y="466.33" width="6.4" height="6.4" fill="#000"/>
<rect x="201.51" y="454.38" width="6.4" height="6.4" fill="#000"/>
<rect x="226.19" y="511.28" width="6.4" height="6.4" fill="#000"/>
<rect x="250.86" y="543.72" width="6.4" height="6.4" fill="#000"/>
<rect x="275.54" y="563.63" width="6.4" height="6.4" fill="#000"/>
<rect x="300.21" y="574.44" width="6.4" height="6.4" fill="#000"/>
<polyline points="81.34,607.8 106.01,613.49 130.69,615.2 155.36,615.2 180.04,617.19 204.71,614.34 229.39,614.91 254.06,615.2 278.74,614.34 303.41,614.34" fill="none" stroke="#000" stroke-width="1.6" stroke-linecap="butt" stroke-linejoin="round"/>
<line x1="81.34" y1="604.95" x2="81.34" y2="610.64" stroke="#000" stroke-width="1.6" stroke-linecap="butt"/>
<line x1="77.84" y1="604.95" x2="84.84" y2="604.95" stroke="#000" stroke-width="1.6" stroke-linecap="butt"/>
<line x1="77.84" y1="610.64" x2="84.84" y2="610.64" stroke="#000" stroke-width="1.6" stroke-linecap="butt"/>
<line x1="106.01" y1="610.64" x2="106.01" y2="616.33" stroke="#000" stroke-width="1.6" stroke-linecap="butt"/>
<line x1="102.51" y1="610.64" x2="109.51" y2="610.64" stroke="#000" stroke-width="1.6" stroke-linecap="butt"/>
<line x1="102.51" y1="616.33" x2="109.51" y2="616.33" stroke="#000" stroke-width="1.6" stroke-linecap="butt"/>
<line x1="278.74" y1="611.5" x2="278.74" y2="617.19" stroke="#000" stroke-width="1.6" stroke-linecap="butt"/>
<line x1="275.24" y1="611.5" x2="282.24" y2="611.5" stroke="#000" stroke-width="1.6" stroke-linecap="butt"/>
<line x1="275.24" y1="617.19" x2="282.24" y2="617.19" stroke="#000" stroke-width="1.6" stroke-linecap="butt"/>
<line x1="303.41" y1="611.5" x2="303.41" y2="617.19" stroke="#000" stroke-width="1.6" stroke-linecap="butt"/>
<line x1="299.91" y1="611.5" x2="306.91" y2="611.5" stroke="#000" stroke-width="1.6" stroke-linecap="butt"/>
<line x1="299.91" y1="617.19" x2="306.91" y2="617.19" stroke="#000" stroke-width="1.6" stroke-linecap="butt"/>
<rect x="78.74" y="605.2" width="5.2" height="5.2" fill="#fff" stroke="#000" stroke-width="1.5"/>
<rect x="103.41" y="610.89" width="5.2" height="5.2" fill="#fff" stroke="#000" stroke-width="1.5"/>
<rect x="128.09" y="612.6" width="5.2" height="5.2" fill="#fff" stroke="#000" stroke-width="1.5"/>
<rect x="152.76" y="612.6" width="5.2" height="5.2" fill="#fff" stroke="#000" stroke-width="1.5"/>
<rect x="177.44" y="614.59" width="5.2" height="5.2" fill="#fff" stroke="#000" stroke-width="1.5"/>
<rect x="202.11" y="611.74" width="5.2" height="5.2" fill="#fff" stroke="#000" stroke-width="1.5"/>
<rect x="226.79" y="612.31" width="5.2" height="5.2" fill="#fff" stroke="#000" stroke-width="1.5"/>
<rect x="251.46" y="612.6" width="5.2" height="5.2" fill="#fff" stroke="#000" stroke-width="1.5"/>
<rect x="276.14" y="611.74" width="5.2" height="5.2" fill="#fff" stroke="#000" stroke-width="1.5"/>
<rect x="300.81" y="611.74" width="5.2" height="5.2" fill="#fff" stroke="#000" stroke-width="1.5"/>
<polyline points="81.34,602.39 106.01,609.51 130.69,613.49 155.36,610.36 180.04,613.49 204.71,613.49 229.39,611.21 254.06,611.78 278.74,609.79 303.41,610.36" fill="none" stroke="#000" stroke-width="1.6" stroke-linecap="butt" stroke-linejoin="round"/>
<line x1="81.34" y1="599.55" x2="81.34" y2="605.24" stroke="#000" stroke-width="1.6" stroke-linecap="butt"/>
<line x1="77.84" y1="599.55" x2="84.84" y2="599.55" stroke="#000" stroke-width="1.6" stroke-linecap="butt"/>
<line x1="77.84" y1="605.24" x2="84.84" y2="605.24" stroke="#000" stroke-width="1.6" stroke-linecap="butt"/>
<line x1="278.74" y1="606.95" x2="278.74" y2="612.64" stroke="#000" stroke-width="1.6" stroke-linecap="butt"/>
<line x1="275.24" y1="606.95" x2="282.24" y2="606.95" stroke="#000" stroke-width="1.6" stroke-linecap="butt"/>
<line x1="275.24" y1="612.64" x2="282.24" y2="612.64" stroke="#000" stroke-width="1.6" stroke-linecap="butt"/>
<line x1="303.41" y1="607.51" x2="303.41" y2="613.2" stroke="#000" stroke-width="1.6" stroke-linecap="butt"/>
<line x1="299.91" y1="607.51" x2="306.91" y2="607.51" stroke="#000" stroke-width="1.6" stroke-linecap="butt"/>
<line x1="299.91" y1="613.2" x2="306.91" y2="613.2" stroke="#000" stroke-width="1.6" stroke-linecap="butt"/>
<circle cx="81.34" cy="602.39" r="2.6" fill="#fff" stroke="#000" stroke-width="1.5"/>
<circle cx="106.01" cy="609.51" r="2.6" fill="#fff" stroke="#000" stroke-width="1.5"/>
<circle cx="130.69" cy="613.49" r="2.6" fill="#fff" stroke="#000" stroke-width="1.5"/>
<circle cx="155.36" cy="610.36" r="2.6" fill="#fff" stroke="#000" stroke-width="1.5"/>
<circle cx="180.04" cy="613.49" r="2.6" fill="#fff" stroke="#000" stroke-width="1.5"/>
<circle cx="204.71" cy="613.49" r="2.6" fill="#fff" stroke="#000" stroke-width="1.5"/>
<circle cx="229.39" cy="611.21" r="2.6" fill="#fff" stroke="#000" stroke-width="1.5"/>
<circle cx="254.06" cy="611.78" r="2.6" fill="#fff" stroke="#000" stroke-width="1.5"/>
<circle cx="278.74" cy="609.79" r="2.6" fill="#fff" stroke="#000" stroke-width="1.5"/>
<circle cx="303.41" cy="610.36" r="2.6" fill="#fff" stroke="#000" stroke-width="1.5"/>
<text transform="translate(154.3,517.2) scale(1.0,0.97)" font-family="Liberation Serif" font-size="18.5" font-weight="400" text-anchor="middle" stroke="#000" stroke-width="0.25">*</text>
<text transform="translate(179.8,460.8) scale(1.0,0.97)" font-family="Liberation Serif" font-size="18.5" font-weight="400" text-anchor="middle" stroke="#000" stroke-width="0.25">*</text>
<text transform="translate(204.4,444.6) scale(1.0,0.97)" font-family="Liberation Serif" font-size="18.5" font-weight="400" text-anchor="middle" stroke="#000" stroke-width="0.25">*</text>
<line x1="231" y1="423.3" x2="247" y2="423.3" stroke="#000" stroke-width="1.6" stroke-linecap="butt"/>
<circle cx="239" cy="423.3" r="2.6" fill="#fff" stroke="#000" stroke-width="1.5"/>
<text transform="translate(250.3,427.6) scale(1.0,0.97)" font-family="Liberation Serif" font-size="13.9" font-weight="400" text-anchor="start" stroke="#000" stroke-width="0.25">vehicle + IgG</text>
<line x1="231" y1="443.3" x2="247" y2="443.3" stroke="#000" stroke-width="1.6" stroke-linecap="butt"/>
<rect x="236.4" y="440.7" width="5.2" height="5.2" fill="#fff" stroke="#000" stroke-width="1.5"/>
<text transform="translate(250.3,447.6) scale(1.0,0.97)" font-family="Liberation Serif" font-size="13.9" font-weight="400" text-anchor="start" stroke="#000" stroke-width="0.25">vehicle + WT-3</text>
<line x1="231" y1="463" x2="247" y2="463" stroke="#000" stroke-width="1.6" stroke-linecap="butt"/>
<circle cx="239" cy="463" r="3.4" fill="#000"/>
<text transform="translate(250.3,467.3) scale(1.0,0.97)" font-family="Liberation Serif" font-size="13.9" font-weight="400" text-anchor="start" stroke="#000" stroke-width="0.25">MIP-2 + IgG</text>
<line x1="231" y1="481.8" x2="247" y2="481.8" stroke="#000" stroke-width="1.6" stroke-linecap="butt"/>
<rect x="235.8" y="478.6" width="6.4" height="6.4" fill="#000"/>
<text transform="translate(250.3,486.1) scale(1.0,0.97)" font-family="Liberation Serif" font-size="13.9" font-weight="400" text-anchor="start" stroke="#000" stroke-width="0.25">MIP-2 + WT-3</text>
<text x="338.5" y="393.8" font-family="Liberation Sans" font-size="24" font-weight="700" stroke="#000" stroke-width="0.6">F</text>
<line x1="436.2" y1="428" x2="436.2" y2="625" stroke="#000" stroke-width="2" stroke-linecap="butt"/>
<line x1="337" y1="624.4" x2="437" y2="624.4" stroke="#000" stroke-width="2.2" stroke-linecap="butt"/>
<line x1="436.2" y1="624" x2="440.5" y2="624" stroke="#000" stroke-width="1.6" stroke-linecap="butt"/>
<text transform="translate(444.6,628.6) scale(1.0,0.97)" font-family="Liberation Serif" font-size="13.2" font-weight="400" text-anchor="start" stroke="#000" stroke-width="0.25">0</text>
<line x1="436.2" y1="591.5" x2="440.5" y2="591.5" stroke="#000" stroke-width="1.6" stroke-linecap="butt"/>
<text transform="translate(444.6,596.1) scale(1.0,0.97)" font-family="Liberation Serif" font-size="13.2" font-weight="400" text-anchor="start" stroke="#000" stroke-width="0.25">1</text>
<line x1="436.2" y1="559" x2="440.5" y2="559" stroke="#000" stroke-width="1.6" stroke-linecap="butt"/>
<text transform="translate(444.6,563.6) scale(1.0,0.97)" font-family="Liberation Serif" font-size="13.2" font-weight="400" text-anchor="start" stroke="#000" stroke-width="0.25">2</text>
<line x1="436.2" y1="526.5" x2="440.5" y2="526.5" stroke="#000" stroke-width="1.6" stroke-linecap="butt"/>
<text transform="translate(444.6,531.1) scale(1.0,0.97)" font-family="Liberation Serif" font-size="13.2" font-weight="400" text-anchor="start" stroke="#000" stroke-width="0.25">3</text>
<line x1="436.2" y1="494" x2="440.5" y2="494" stroke="#000" stroke-width="1.6" stroke-linecap="butt"/>
<text transform="translate(444.6,498.6) scale(1.0,0.97)" font-family="Liberation Serif" font-size="13.2" font-weight="400" text-anchor="start" stroke="#000" stroke-width="0.25">4</text>
<line x1="436.2" y1="461.5" x2="440.5" y2="461.5" stroke="#000" stroke-width="1.6" stroke-linecap="butt"/>
<text transform="translate(444.6,466.1) scale(1.0,0.97)" font-family="Liberation Serif" font-size="13.2" font-weight="400" text-anchor="start" stroke="#000" stroke-width="0.25">5</text>
<line x1="436.2" y1="429" x2="440.5" y2="429" stroke="#000" stroke-width="1.6" stroke-linecap="butt"/>
<text transform="translate(444.6,433.6) scale(1.0,0.97)" font-family="Liberation Serif" font-size="13.2" font-weight="400" text-anchor="start" stroke="#000" stroke-width="0.25">6</text>
<rect x="344.5" y="601.9" width="16.2" height="22.1" fill="#000"/>
<line x1="352.6" y1="601.9" x2="352.6" y2="597.35" stroke="#000" stroke-width="1.8" stroke-linecap="butt"/>
<line x1="349.1" y1="597.35" x2="356.1" y2="597.35" stroke="#000" stroke-width="1.8" stroke-linecap="butt"/>
<rect x="367" y="604.5" width="16.2" height="19.5" fill="#000"/>
<line x1="375.1" y1="604.5" x2="375.1" y2="599.95" stroke="#000" stroke-width="1.8" stroke-linecap="butt"/>
<line x1="371.6" y1="599.95" x2="378.6" y2="599.95" stroke="#000" stroke-width="1.8" stroke-linecap="butt"/>
<rect x="390" y="520.98" width="16.2" height="103.02" fill="#000"/>
<line x1="398.1" y1="520.98" x2="398.1" y2="510.25" stroke="#000" stroke-width="1.8" stroke-linecap="butt"/>
<line x1="394.6" y1="510.25" x2="401.6" y2="510.25" stroke="#000" stroke-width="1.8" stroke-linecap="butt"/>
<rect x="412.5" y="458.58" width="16.2" height="165.42" fill="#000"/>
<line x1="420.6" y1="458.58" x2="420.6" y2="449.15" stroke="#000" stroke-width="1.8" stroke-linecap="butt"/>
<line x1="417.1" y1="449.15" x2="424.1" y2="449.15" stroke="#000" stroke-width="1.8" stroke-linecap="butt"/>
<polyline points="398.7,498.5 398.7,439.8 420.5,439.8 420.5,444.5" fill="none" stroke="#000" stroke-width="1.3" stroke-linecap="butt" stroke-linejoin="miter"/>
<text transform="translate(410.3,441.2) scale(1.0,0.97)" font-family="Liberation Serif" font-size="20" font-weight="400" text-anchor="middle" stroke="#000" stroke-width="0.25">*</text>
<text transform="translate(353.8,644.3) scale(1.0,0.97)" font-family="Liberation Serif" font-size="14" font-weight="400" text-anchor="middle" stroke="#000" stroke-width="0.25">-</text>
<text transform="translate(377.7,643.5) scale(1.0,0.97)" font-family="Liberation Serif" font-size="14" font-weight="400" text-anchor="middle" stroke="#000" stroke-width="0.25">+</text>
<text transform="translate(398.2,644.3) scale(1.0,0.97)" font-family="Liberation Serif" font-size="14" font-weight="400" text-anchor="middle" stroke="#000" stroke-width="0.25">-</text>
<text transform="translate(422.1,643.5) scale(1.0,0.97)" font-family="Liberation Serif" font-size="14" font-weight="400" text-anchor="middle" stroke="#000" stroke-width="0.25">+</text>
<text transform="translate(439.2,643.6) scale(1.0,0.97)" font-family="Liberation Serif" font-size="13.8" font-weight="400" text-anchor="start" stroke="#000" stroke-width="0.25">WT-3</text>
<line x1="346" y1="649.2" x2="382.5" y2="649.2" stroke="#000" stroke-width="1.3" stroke-linecap="butt"/>
<line x1="391.2" y1="649.2" x2="428.3" y2="649.2" stroke="#000" stroke-width="1.3" stroke-linecap="butt"/>
<text transform="translate(365.2,667.6) scale(1.0,0.97)" font-family="Liberation Serif" font-size="13.7" font-weight="400" text-anchor="middle" stroke="#000" stroke-width="0.25">vehicle</text>
<text transform="translate(410.4,667.6) scale(1.0,0.97)" font-family="Liberation Serif" font-size="13.8" font-weight="400" text-anchor="middle" stroke="#000" stroke-width="0.25">MIP-2</text>
<text transform="translate(462.7,525.2) rotate(90) scale(1.0,0.97)" font-family="Liberation Serif" font-size="13.9" font-weight="400" text-anchor="middle" stroke="#000" stroke-width="0.25">Total Neutrophils released (× 10<tspan font-size="8" dy="-5">6</tspan><tspan dy="5">)</tspan></text>
</svg>
</body></html>
